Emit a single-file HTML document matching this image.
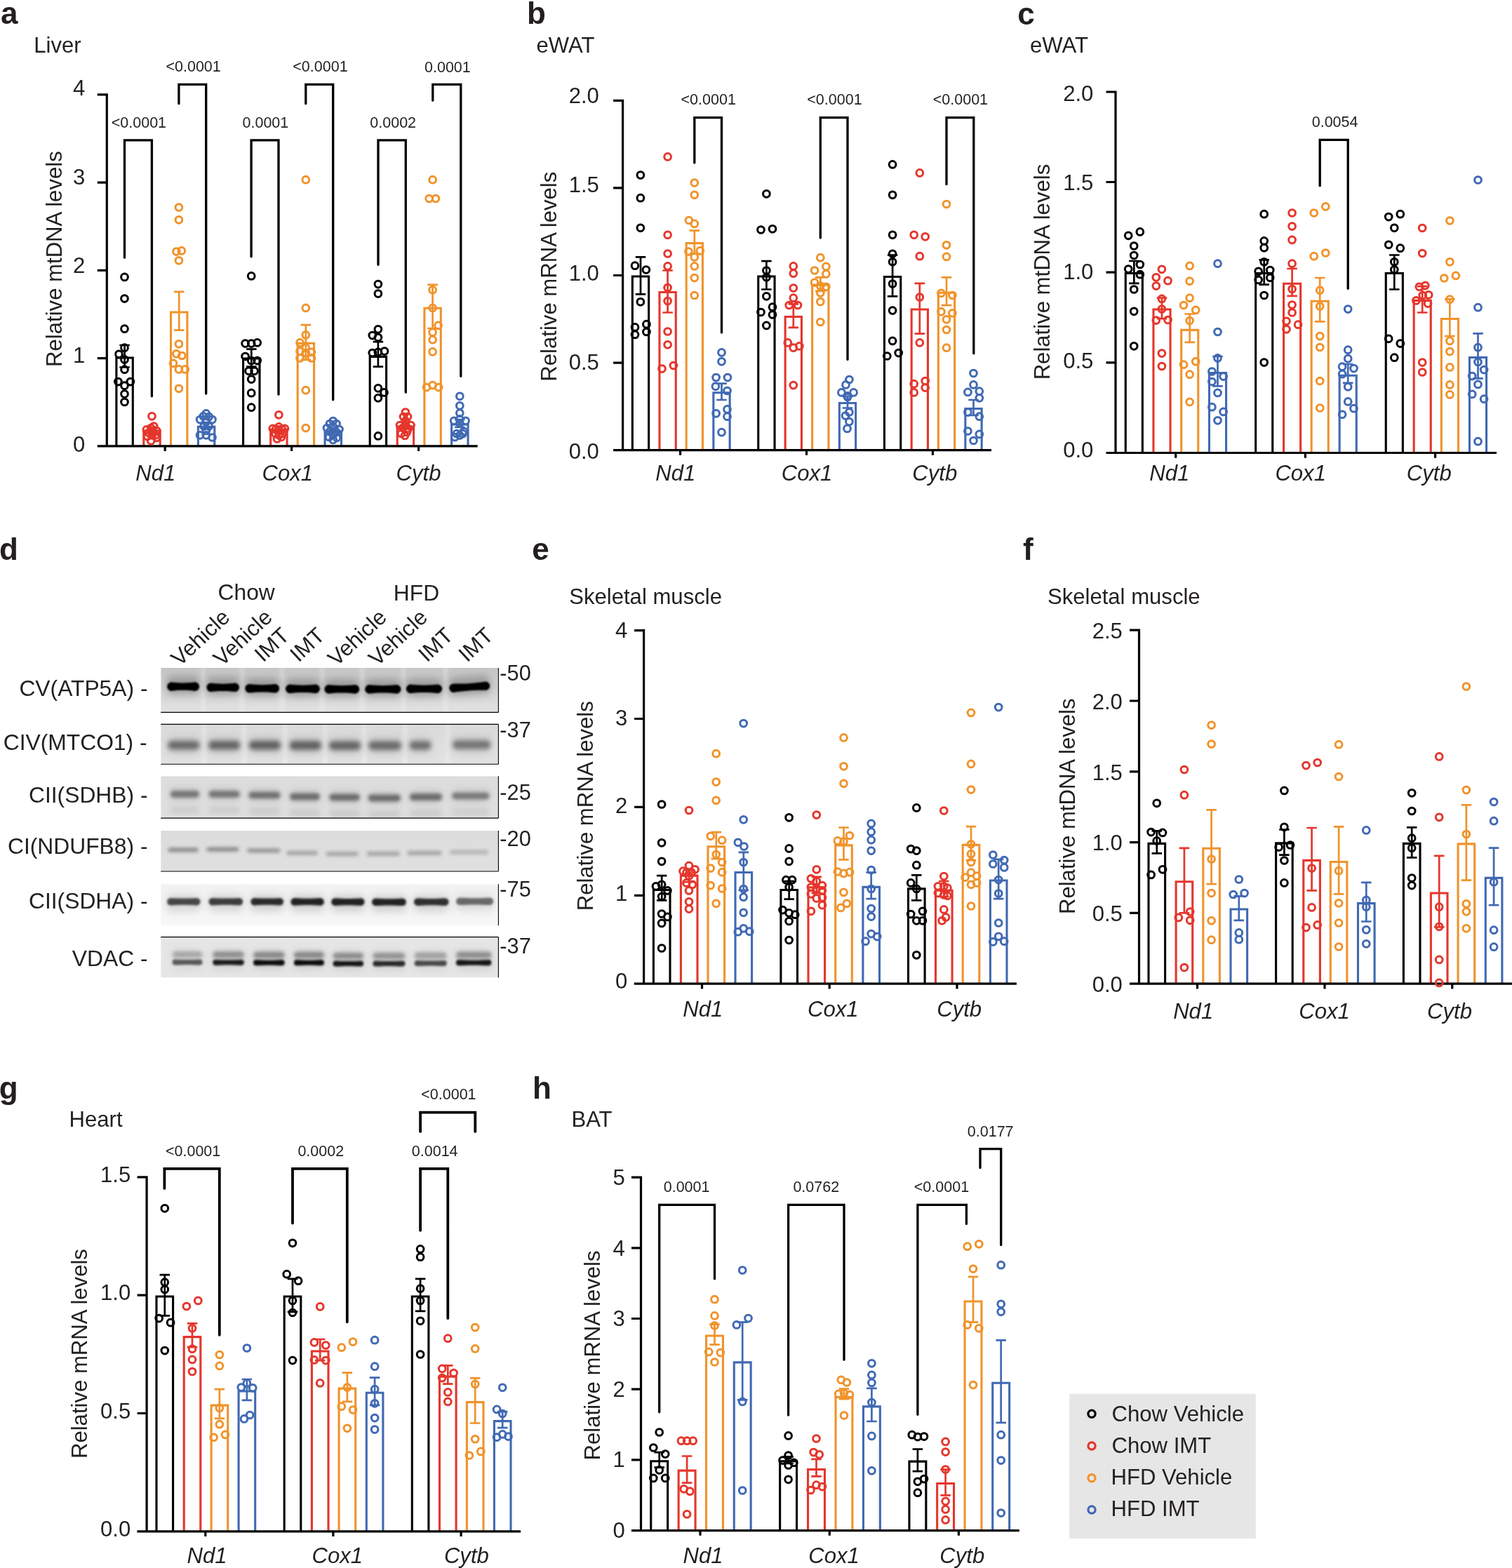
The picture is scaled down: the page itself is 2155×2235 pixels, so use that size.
<!DOCTYPE html>
<html lang="en"><head><meta charset="utf-8"><title>Figure: mitochondrial DNA and mRNA levels</title>
<style>html,body{margin:0;padding:0;background:#fff}body{width:2155px;height:2235px;overflow:hidden}svg{display:block}text{font-family:"Liberation Sans",Arial,Helvetica,sans-serif;fill:#231f20}</style>
</head><body>
<svg xmlns="http://www.w3.org/2000/svg" width="2155" height="2235" viewBox="0 0 2155 2235">
<rect width="2155" height="2235" fill="#fff"/>
<g>
<text x="0.88" y="34" font-size="44" font-weight="bold">a</text>
<text x="48.23" y="75" font-size="31.1">Liver</text>
<text x="87.9" y="522.87" font-size="31.1" transform="rotate(-90 87.9 522.87)">Relative mtDNA levels</text>
<text x="121.3" y="643.8" font-size="31.1" text-anchor="end">0</text>
<text x="121.3" y="517.2" font-size="31.1" text-anchor="end">1</text>
<text x="121.3" y="388.6" font-size="31.1" text-anchor="end">2</text>
<text x="121.3" y="262.5" font-size="31.1" text-anchor="end">3</text>
<text x="121.3" y="135.7" font-size="31.1" text-anchor="end">4</text>
<text x="193.37" y="684.6" font-size="31.1" font-style="italic">Nd1</text>
<text x="373.49" y="684.6" font-size="31.1" font-style="italic">Cox1</text>
<text x="564.49" y="684.6" font-size="31.1" font-style="italic">Cytb</text>
<path d="M165.9 635.9V510.05H189.3V635.9" fill="none" stroke="#000000" stroke-width="3.1"/>
<path d="M204.8 635.9V614.05H228.2V635.9" fill="none" stroke="#e5362c" stroke-width="3.1"/>
<path d="M243.5 635.9V445.05H266.9V635.9" fill="none" stroke="#f0932b" stroke-width="3.1"/>
<path d="M282.4 635.9V608.35H305.8V635.9" fill="none" stroke="#4069b3" stroke-width="3.1"/>
<path d="M346.6 635.9V511.05H370V635.9" fill="none" stroke="#000000" stroke-width="3.1"/>
<path d="M385.7 635.9V612.55H409.1V635.9" fill="none" stroke="#e5362c" stroke-width="3.1"/>
<path d="M424.2 635.9V489.25H447.6V635.9" fill="none" stroke="#f0932b" stroke-width="3.1"/>
<path d="M463.1 635.9V614.85H486.5V635.9" fill="none" stroke="#4069b3" stroke-width="3.1"/>
<path d="M527.2 635.9V508.35H550.6V635.9" fill="none" stroke="#000000" stroke-width="3.1"/>
<path d="M566.2 635.9V608.05H589.6V635.9" fill="none" stroke="#e5362c" stroke-width="3.1"/>
<path d="M604.9 635.9V439.25H628.3V635.9" fill="none" stroke="#f0932b" stroke-width="3.1"/>
<path d="M643.6 635.9V605.05H667V635.9" fill="none" stroke="#4069b3" stroke-width="3.1"/>
<path d="M152.3 133.3V637.5M139 635.9H680.7M138.8 635.9H152.3M138.8 510.65H152.3M138.8 385.4H152.3M138.8 260.15H152.3M138.8 134.9H152.3M235.2 635.9V643.1M415.6 635.9V643.1M596.6 635.9V643.1" fill="none" stroke="#000" stroke-width="3.2"/>
<path d="M177.6 492V523.5M170.35 492H184.85M170.35 523.5H184.85" fill="none" stroke="#000000" stroke-width="2.7"/>
<g fill="none" stroke="#000000" stroke-width="3"><circle cx="177.5" cy="394.9" r="4.85"/><circle cx="177.5" cy="425.6" r="4.85"/><circle cx="177.5" cy="468.7" r="4.85"/><circle cx="177.5" cy="495.7" r="4.85"/><circle cx="169.5" cy="504.8" r="4.85"/><circle cx="177.5" cy="512.4" r="4.85"/><circle cx="177.5" cy="526.7" r="4.85"/><circle cx="168.4" cy="544.1" r="4.85"/><circle cx="185.9" cy="544.1" r="4.85"/><circle cx="177.5" cy="549.7" r="4.85"/><circle cx="177.5" cy="561.6" r="4.85"/><circle cx="177.5" cy="573" r="4.85"/></g>
<path d="M216.5 609V617M209.25 609H223.75M209.25 617H223.75" fill="none" stroke="#e5362c" stroke-width="2.7"/>
<g fill="none" stroke="#e5362c" stroke-width="3"><circle cx="216.5" cy="593.3" r="4.85"/><circle cx="208.9" cy="612.4" r="4.85"/><circle cx="215.2" cy="610" r="4.85"/><circle cx="219.2" cy="607.6" r="4.85"/><circle cx="223.2" cy="614" r="4.85"/><circle cx="212" cy="617" r="4.85"/><circle cx="216.8" cy="620.3" r="4.85"/><circle cx="221.6" cy="620.3" r="4.85"/><circle cx="215.2" cy="628.3" r="4.85"/><circle cx="210" cy="622" r="4.85"/><circle cx="223" cy="624" r="4.85"/><circle cx="217" cy="614" r="4.85"/></g>
<path d="M255.2 415.9V470.6M247.95 415.9H262.45M247.95 470.6H262.45" fill="none" stroke="#f0932b" stroke-width="2.7"/>
<g fill="none" stroke="#f0932b" stroke-width="3"><circle cx="254.9" cy="295.6" r="4.85"/><circle cx="254.9" cy="313.3" r="4.85"/><circle cx="251.4" cy="358.6" r="4.85"/><circle cx="258.8" cy="357.4" r="4.85"/><circle cx="254.9" cy="371.3" r="4.85"/><circle cx="254.9" cy="490.3" r="4.85"/><circle cx="251.4" cy="504.3" r="4.85"/><circle cx="259.3" cy="507" r="4.85"/><circle cx="247" cy="517.8" r="4.85"/><circle cx="254.9" cy="526.4" r="4.85"/><circle cx="263.7" cy="526.4" r="4.85"/><circle cx="254.9" cy="553.8" r="4.85"/></g>
<path d="M294.1 602V611M286.85 602H301.35M286.85 611H301.35" fill="none" stroke="#4069b3" stroke-width="2.7"/>
<g fill="none" stroke="#4069b3" stroke-width="3"><circle cx="293.8" cy="589.4" r="4.85"/><circle cx="289.8" cy="593.3" r="4.85"/><circle cx="297.8" cy="594.1" r="4.85"/><circle cx="285.1" cy="598.1" r="4.85"/><circle cx="302.5" cy="598.1" r="4.85"/><circle cx="293.8" cy="601.3" r="4.85"/><circle cx="290.6" cy="607.6" r="4.85"/><circle cx="297.8" cy="607.6" r="4.85"/><circle cx="293.8" cy="614" r="4.85"/><circle cx="285.1" cy="620.3" r="4.85"/><circle cx="302.5" cy="623.5" r="4.85"/><circle cx="293.8" cy="620.3" r="4.85"/></g>
<path d="M358.3 497.7V522.7M351.05 497.7H365.55M351.05 522.7H365.55" fill="none" stroke="#000000" stroke-width="2.7"/>
<g fill="none" stroke="#000000" stroke-width="3"><circle cx="358.2" cy="393.4" r="4.85"/><circle cx="349.6" cy="489.6" r="4.85"/><circle cx="358.2" cy="489.6" r="4.85"/><circle cx="366.7" cy="488.4" r="4.85"/><circle cx="349.6" cy="508" r="4.85"/><circle cx="358.2" cy="514.1" r="4.85"/><circle cx="366.7" cy="514.1" r="4.85"/><circle cx="354.5" cy="528.8" r="4.85"/><circle cx="362.6" cy="528.8" r="4.85"/><circle cx="358.2" cy="540.6" r="4.85"/><circle cx="358.2" cy="560.2" r="4.85"/><circle cx="358.2" cy="580.7" r="4.85"/></g>
<path d="M397.4 607.5V615M390.15 607.5H404.65M390.15 615H404.65" fill="none" stroke="#e5362c" stroke-width="2.7"/>
<g fill="none" stroke="#e5362c" stroke-width="3"><circle cx="397.4" cy="591.3" r="4.85"/><circle cx="388.8" cy="610.9" r="4.85"/><circle cx="397.4" cy="613.3" r="4.85"/><circle cx="405.9" cy="610.9" r="4.85"/><circle cx="392.5" cy="618.2" r="4.85"/><circle cx="402.3" cy="618.2" r="4.85"/><circle cx="397.4" cy="608.4" r="4.85"/><circle cx="395" cy="625.6" r="4.85"/><circle cx="401" cy="623.1" r="4.85"/><circle cx="393" cy="612" r="4.85"/><circle cx="402" cy="612" r="4.85"/><circle cx="397.4" cy="620" r="4.85"/></g>
<path d="M435.9 463.2V512.9M428.65 463.2H443.15M428.65 512.9H443.15" fill="none" stroke="#f0932b" stroke-width="2.7"/>
<g fill="none" stroke="#f0932b" stroke-width="3"><circle cx="435.8" cy="256.2" r="4.85"/><circle cx="435.8" cy="438.9" r="4.85"/><circle cx="435.8" cy="477.4" r="4.85"/><circle cx="427.5" cy="488.4" r="4.85"/><circle cx="435.8" cy="495.7" r="4.85"/><circle cx="443.9" cy="501.9" r="4.85"/><circle cx="427.5" cy="500.6" r="4.85"/><circle cx="435.8" cy="503.1" r="4.85"/><circle cx="427.5" cy="510.4" r="4.85"/><circle cx="443.9" cy="510.4" r="4.85"/><circle cx="435.8" cy="556.2" r="4.85"/><circle cx="435.8" cy="610.1" r="4.85"/></g>
<path d="M474.8 610.5V616.5M467.55 610.5H482.05M467.55 616.5H482.05" fill="none" stroke="#4069b3" stroke-width="2.7"/>
<g fill="none" stroke="#4069b3" stroke-width="3"><circle cx="474.7" cy="600" r="4.85"/><circle cx="470" cy="604" r="4.85"/><circle cx="479.5" cy="604" r="4.85"/><circle cx="466" cy="610" r="4.85"/><circle cx="483.5" cy="612" r="4.85"/><circle cx="474.7" cy="608" r="4.85"/><circle cx="470" cy="615" r="4.85"/><circle cx="479.5" cy="616" r="4.85"/><circle cx="474.7" cy="620" r="4.85"/><circle cx="469" cy="623" r="4.85"/><circle cx="480" cy="624" r="4.85"/><circle cx="474.7" cy="627" r="4.85"/></g>
<path d="M538.9 487.2V522.7M531.65 487.2H546.15M531.65 522.7H546.15" fill="none" stroke="#000000" stroke-width="2.7"/>
<g fill="none" stroke="#000000" stroke-width="3"><circle cx="538.9" cy="405.1" r="4.85"/><circle cx="538.9" cy="418.6" r="4.85"/><circle cx="538.9" cy="469.3" r="4.85"/><circle cx="530.8" cy="478.1" r="4.85"/><circle cx="538.9" cy="481" r="4.85"/><circle cx="530.8" cy="503.1" r="4.85"/><circle cx="538.9" cy="501.9" r="4.85"/><circle cx="548" cy="500.6" r="4.85"/><circle cx="538.9" cy="553.3" r="4.85"/><circle cx="547.5" cy="559.4" r="4.85"/><circle cx="538.9" cy="567.3" r="4.85"/><circle cx="538.9" cy="621.4" r="4.85"/></g>
<path d="M577.9 602V611M570.65 602H585.15M570.65 611H585.15" fill="none" stroke="#e5362c" stroke-width="2.7"/>
<g fill="none" stroke="#e5362c" stroke-width="3"><circle cx="577.9" cy="587.6" r="4.85"/><circle cx="575" cy="594" r="4.85"/><circle cx="581" cy="594" r="4.85"/><circle cx="577.9" cy="600" r="4.85"/><circle cx="570" cy="606" r="4.85"/><circle cx="585.5" cy="606" r="4.85"/><circle cx="574" cy="610" r="4.85"/><circle cx="582" cy="611" r="4.85"/><circle cx="577.9" cy="606" r="4.85"/><circle cx="572" cy="618" r="4.85"/><circle cx="580" cy="616" r="4.85"/><circle cx="577" cy="621" r="4.85"/></g>
<path d="M616.6 405.9V468.1M609.35 405.9H623.85M609.35 468.1H623.85" fill="none" stroke="#f0932b" stroke-width="2.7"/>
<g fill="none" stroke="#f0932b" stroke-width="3"><circle cx="616.6" cy="256.2" r="4.85"/><circle cx="611.7" cy="283.1" r="4.85"/><circle cx="621" cy="283.1" r="4.85"/><circle cx="616.6" cy="413.2" r="4.85"/><circle cx="616.6" cy="438.9" r="4.85"/><circle cx="624.6" cy="463.9" r="4.85"/><circle cx="616.6" cy="473.7" r="4.85"/><circle cx="616.6" cy="484.2" r="4.85"/><circle cx="616.6" cy="501.4" r="4.85"/><circle cx="608" cy="552.1" r="4.85"/><circle cx="616.6" cy="549.1" r="4.85"/><circle cx="625.1" cy="552.1" r="4.85"/></g>
<path d="M655.3 598V609M648.05 598H662.55M648.05 609H662.55" fill="none" stroke="#4069b3" stroke-width="2.7"/>
<g fill="none" stroke="#4069b3" stroke-width="3"><circle cx="655.3" cy="564.8" r="4.85"/><circle cx="655.3" cy="578.3" r="4.85"/><circle cx="655.3" cy="588.8" r="4.85"/><circle cx="647.2" cy="599.8" r="4.85"/><circle cx="655.3" cy="597.4" r="4.85"/><circle cx="663.6" cy="599.8" r="4.85"/><circle cx="655.3" cy="603.5" r="4.85"/><circle cx="650.9" cy="618.2" r="4.85"/><circle cx="659.5" cy="618.2" r="4.85"/><circle cx="648.4" cy="623.1" r="4.85"/><circle cx="655.3" cy="620.6" r="4.85"/><circle cx="661" cy="615" r="4.85"/></g>
<path d="M177.5 367.15V199.8H216.4V564.85" fill="none" stroke="#000" stroke-width="3.3" stroke-linecap="round"/>
<text x="158.71" y="182" font-size="22.7" textLength="78.39" lengthAdjust="spacingAndGlyphs" fill="#000">&lt;0.0001</text>
<path d="M254.9 147.65V120.4H293.7V561.05" fill="none" stroke="#000" stroke-width="3.3" stroke-linecap="round"/>
<text x="236.41" y="102" font-size="22.7" textLength="78.39" lengthAdjust="spacingAndGlyphs" fill="#000">&lt;0.0001</text>
<path d="M358.1 365.85V199.8H397V562.15" fill="none" stroke="#000" stroke-width="3.3" stroke-linecap="round"/>
<text x="345.49" y="182" font-size="22.7" textLength="65.82" lengthAdjust="spacingAndGlyphs" fill="#000">0.0001</text>
<path d="M435.8 147.65V120.4H474.7V569.75" fill="none" stroke="#000" stroke-width="3.3" stroke-linecap="round"/>
<text x="417.31" y="102" font-size="22.7" textLength="78.39" lengthAdjust="spacingAndGlyphs" fill="#000">&lt;0.0001</text>
<path d="M539 377.25V199.8H578.3V559.15" fill="none" stroke="#000" stroke-width="3.3" stroke-linecap="round"/>
<text x="527.29" y="182" font-size="22.7" textLength="65.82" lengthAdjust="spacingAndGlyphs" fill="#000">0.0002</text>
<path d="M616.8 143.15V120.4H656.8V536.25" fill="none" stroke="#000" stroke-width="3.3" stroke-linecap="round"/>
<text x="604.99" y="103" font-size="22.7" textLength="65.82" lengthAdjust="spacingAndGlyphs" fill="#000">0.0001</text>
</g>
<g>
<text x="750.94" y="34.3" font-size="44" font-weight="bold">b</text>
<text x="764.48" y="75.1" font-size="31.1">eWAT</text>
<text x="792.6" y="543.65" font-size="31.1" transform="rotate(-90 792.6 543.65)">Relative mRNA levels</text>
<text x="853.9" y="654.1" font-size="31.1" text-anchor="end">0.0</text>
<text x="853.9" y="527" font-size="31.1" text-anchor="end">0.5</text>
<text x="853.9" y="400.2" font-size="31.1" text-anchor="end">1.0</text>
<text x="853.9" y="273.5" font-size="31.1" text-anchor="end">1.5</text>
<text x="853.9" y="146.8" font-size="31.1" text-anchor="end">2.0</text>
<text x="934.27" y="685" font-size="31.1" font-style="italic">Nd1</text>
<text x="1113.79" y="685" font-size="31.1" font-style="italic">Cox1</text>
<text x="1300.29" y="685" font-size="31.1" font-style="italic">Cytb</text>
<path d="M901.35 641.6V393.95H924.65V641.6" fill="none" stroke="#000000" stroke-width="3.1"/>
<path d="M939.95 641.6V416.45H963.25V641.6" fill="none" stroke="#e5362c" stroke-width="3.1"/>
<path d="M978.15 641.6V346.65H1001.45V641.6" fill="none" stroke="#f0932b" stroke-width="3.1"/>
<path d="M1016.85 641.6V559.75H1040.15V641.6" fill="none" stroke="#4069b3" stroke-width="3.1"/>
<path d="M1080.75 641.6V393.95H1104.05V641.6" fill="none" stroke="#000000" stroke-width="3.1"/>
<path d="M1119.15 641.6V451.55H1142.45V641.6" fill="none" stroke="#e5362c" stroke-width="3.1"/>
<path d="M1157.65 641.6V406.15H1180.95V641.6" fill="none" stroke="#f0932b" stroke-width="3.1"/>
<path d="M1196.35 641.6V574.45H1219.65V641.6" fill="none" stroke="#4069b3" stroke-width="3.1"/>
<path d="M1260.45 641.6V394.45H1283.75V641.6" fill="none" stroke="#000000" stroke-width="3.1"/>
<path d="M1299.15 641.6V440.95H1322.45V641.6" fill="none" stroke="#e5362c" stroke-width="3.1"/>
<path d="M1337.35 641.6V417.25H1360.65V641.6" fill="none" stroke="#f0932b" stroke-width="3.1"/>
<path d="M1375.85 641.6V582.55H1399.15V641.6" fill="none" stroke="#4069b3" stroke-width="3.1"/>
<path d="M887.6 141.8V643.2M874.3 641.6H1413M874.1 641.6H887.6M874.1 517.1H887.6M874.1 392.5H887.6M874.1 267.9H887.6M874.1 143.4H887.6M969.6 641.6V648.8M1149.5 641.6V648.8M1329.4 641.6V648.8" fill="none" stroke="#000" stroke-width="3.2"/>
<path d="M913 366.4V419.3M905.75 366.4H920.25M905.75 419.3H920.25" fill="none" stroke="#000000" stroke-width="2.7"/>
<g fill="none" stroke="#000000" stroke-width="3"><circle cx="912.9" cy="249.6" r="4.85"/><circle cx="912.9" cy="282.2" r="4.85"/><circle cx="912.9" cy="324.8" r="4.85"/><circle cx="905" cy="378.7" r="4.85"/><circle cx="920.9" cy="384.5" r="4.85"/><circle cx="912.9" cy="430.3" r="4.85"/><circle cx="905" cy="466.4" r="4.85"/><circle cx="921.4" cy="462.2" r="4.85"/><circle cx="921.4" cy="473" r="4.85"/><circle cx="905" cy="476.9" r="4.85"/></g>
<path d="M951.6 385.5V445.5M944.35 385.5H958.85M944.35 445.5H958.85" fill="none" stroke="#e5362c" stroke-width="2.7"/>
<g fill="none" stroke="#e5362c" stroke-width="3"><circle cx="951.6" cy="223.4" r="4.85"/><circle cx="951.6" cy="334.8" r="4.85"/><circle cx="951.6" cy="361.5" r="4.85"/><circle cx="951.6" cy="379.4" r="4.85"/><circle cx="951.6" cy="410" r="4.85"/><circle cx="951.6" cy="429.1" r="4.85"/><circle cx="951.6" cy="472.5" r="4.85"/><circle cx="951.6" cy="491.3" r="4.85"/><circle cx="959.9" cy="521" r="4.85"/><circle cx="943.5" cy="525.6" r="4.85"/></g>
<path d="M989.8 328.7V361.5M982.55 328.7H997.05M982.55 361.5H997.05" fill="none" stroke="#f0932b" stroke-width="2.7"/>
<g fill="none" stroke="#f0932b" stroke-width="3"><circle cx="989.8" cy="260.6" r="4.85"/><circle cx="989.8" cy="277.8" r="4.85"/><circle cx="981.9" cy="314" r="4.85"/><circle cx="989.8" cy="318.9" r="4.85"/><circle cx="981.4" cy="358.6" r="4.85"/><circle cx="997.8" cy="357.4" r="4.85"/><circle cx="989.8" cy="366.4" r="4.85"/><circle cx="989.8" cy="379.4" r="4.85"/><circle cx="989.8" cy="396.1" r="4.85"/><circle cx="989.8" cy="421" r="4.85"/></g>
<path d="M1028.5 546.7V570M1021.25 546.7H1035.75M1021.25 570H1035.75" fill="none" stroke="#4069b3" stroke-width="2.7"/>
<g fill="none" stroke="#4069b3" stroke-width="3"><circle cx="1028.5" cy="502.4" r="4.85"/><circle cx="1028.5" cy="515.3" r="4.85"/><circle cx="1020.6" cy="538.1" r="4.85"/><circle cx="1037" cy="538.1" r="4.85"/><circle cx="1019.9" cy="550.8" r="4.85"/><circle cx="1036.5" cy="557" r="4.85"/><circle cx="1036.5" cy="583.4" r="4.85"/><circle cx="1020.6" cy="589.3" r="4.85"/><circle cx="1036.5" cy="593.7" r="4.85"/><circle cx="1028.5" cy="616.2" r="4.85"/></g>
<path d="M1092.4 372.1V412.5M1085.15 372.1H1099.65M1085.15 412.5H1099.65" fill="none" stroke="#000000" stroke-width="2.7"/>
<g fill="none" stroke="#000000" stroke-width="3"><circle cx="1092.4" cy="276.3" r="4.85"/><circle cx="1084.5" cy="327.5" r="4.85"/><circle cx="1101" cy="326.3" r="4.85"/><circle cx="1092.4" cy="385.5" r="4.85"/><circle cx="1092.4" cy="395.3" r="4.85"/><circle cx="1092.4" cy="422.3" r="4.85"/><circle cx="1101" cy="437.7" r="4.85"/><circle cx="1084.5" cy="445" r="4.85"/><circle cx="1101" cy="448.5" r="4.85"/><circle cx="1092.4" cy="463.9" r="4.85"/></g>
<path d="M1130.8 433.3V466.8M1123.55 433.3H1138.05M1123.55 466.8H1138.05" fill="none" stroke="#e5362c" stroke-width="2.7"/>
<g fill="none" stroke="#e5362c" stroke-width="3"><circle cx="1130.8" cy="379.4" r="4.85"/><circle cx="1130.8" cy="389.7" r="4.85"/><circle cx="1130.8" cy="410.5" r="4.85"/><circle cx="1130.8" cy="424.7" r="4.85"/><circle cx="1124.7" cy="435" r="4.85"/><circle cx="1137" cy="435" r="4.85"/><circle cx="1122.8" cy="488.4" r="4.85"/><circle cx="1130.8" cy="495.7" r="4.85"/><circle cx="1139.4" cy="493.3" r="4.85"/><circle cx="1130.8" cy="549.1" r="4.85"/></g>
<path d="M1169.3 395.3V414.9M1162.05 395.3H1176.55M1162.05 414.9H1176.55" fill="none" stroke="#f0932b" stroke-width="2.7"/>
<g fill="none" stroke="#f0932b" stroke-width="3"><circle cx="1169.3" cy="367.2" r="4.85"/><circle cx="1177.4" cy="379.9" r="4.85"/><circle cx="1161" cy="385.5" r="4.85"/><circle cx="1177.4" cy="390.4" r="4.85"/><circle cx="1161" cy="402.7" r="4.85"/><circle cx="1169.3" cy="407.6" r="4.85"/><circle cx="1177.4" cy="408.8" r="4.85"/><circle cx="1169.3" cy="417.4" r="4.85"/><circle cx="1169.3" cy="430.1" r="4.85"/><circle cx="1169.3" cy="459" r="4.85"/></g>
<path d="M1208 564.8V581.5M1200.75 564.8H1215.25M1200.75 581.5H1215.25" fill="none" stroke="#4069b3" stroke-width="2.7"/>
<g fill="none" stroke="#4069b3" stroke-width="3"><circle cx="1210.4" cy="541" r="4.85"/><circle cx="1205.5" cy="548.4" r="4.85"/><circle cx="1199.4" cy="559.4" r="4.85"/><circle cx="1216.6" cy="559.4" r="4.85"/><circle cx="1208" cy="564.3" r="4.85"/><circle cx="1208" cy="566" r="4.85"/><circle cx="1210.4" cy="587.6" r="4.85"/><circle cx="1205" cy="592.5" r="4.85"/><circle cx="1210.4" cy="601" r="4.85"/><circle cx="1207.5" cy="610.9" r="4.85"/></g>
<path d="M1272.1 363.5V422.3M1264.85 363.5H1279.35M1264.85 422.3H1279.35" fill="none" stroke="#000000" stroke-width="2.7"/>
<g fill="none" stroke="#000000" stroke-width="3"><circle cx="1272.1" cy="234.4" r="4.85"/><circle cx="1272.1" cy="277.8" r="4.85"/><circle cx="1272.1" cy="334.8" r="4.85"/><circle cx="1272.1" cy="361.8" r="4.85"/><circle cx="1272.1" cy="373.3" r="4.85"/><circle cx="1272.1" cy="404.6" r="4.85"/><circle cx="1272.1" cy="442.6" r="4.85"/><circle cx="1272.1" cy="485.9" r="4.85"/><circle cx="1280.7" cy="503.1" r="4.85"/><circle cx="1264.3" cy="507.5" r="4.85"/></g>
<path d="M1310.8 403.9V475.7M1303.55 403.9H1318.05M1303.55 475.7H1318.05" fill="none" stroke="#e5362c" stroke-width="2.7"/>
<g fill="none" stroke="#e5362c" stroke-width="3"><circle cx="1310.8" cy="246.4" r="4.85"/><circle cx="1302.7" cy="334.8" r="4.85"/><circle cx="1318.7" cy="337.3" r="4.85"/><circle cx="1310.8" cy="365.2" r="4.85"/><circle cx="1310.8" cy="423.5" r="4.85"/><circle cx="1310.8" cy="488.4" r="4.85"/><circle cx="1302.7" cy="547.2" r="4.85"/><circle cx="1318.7" cy="543" r="4.85"/><circle cx="1318.7" cy="552.6" r="4.85"/><circle cx="1302.7" cy="559.4" r="4.85"/></g>
<path d="M1349 395.3V435.2M1341.75 395.3H1356.25M1341.75 435.2H1356.25" fill="none" stroke="#f0932b" stroke-width="2.7"/>
<g fill="none" stroke="#f0932b" stroke-width="3"><circle cx="1349" cy="291" r="4.85"/><circle cx="1349" cy="349.3" r="4.85"/><circle cx="1349" cy="365.9" r="4.85"/><circle cx="1341.4" cy="417.9" r="4.85"/><circle cx="1357.4" cy="421" r="4.85"/><circle cx="1341.4" cy="444.3" r="4.85"/><circle cx="1357.4" cy="446.3" r="4.85"/><circle cx="1349" cy="455.3" r="4.85"/><circle cx="1349" cy="470" r="4.85"/><circle cx="1349" cy="495.7" r="4.85"/></g>
<path d="M1387.5 570V591.8M1380.25 570H1394.75M1380.25 591.8H1394.75" fill="none" stroke="#4069b3" stroke-width="2.7"/>
<g fill="none" stroke="#4069b3" stroke-width="3"><circle cx="1387.5" cy="532" r="4.85"/><circle cx="1387.5" cy="548.4" r="4.85"/><circle cx="1379.4" cy="558.9" r="4.85"/><circle cx="1395.8" cy="557.7" r="4.85"/><circle cx="1395.8" cy="567.3" r="4.85"/><circle cx="1379.4" cy="587.6" r="4.85"/><circle cx="1395.8" cy="593.7" r="4.85"/><circle cx="1379.4" cy="614.5" r="4.85"/><circle cx="1395.8" cy="618.9" r="4.85"/><circle cx="1387.5" cy="628" r="4.85"/></g>
<path d="M989.8 232.05V167.6H1028.5V474.05" fill="none" stroke="#000" stroke-width="3.3" stroke-linecap="round"/>
<text x="970.51" y="148.7" font-size="22.7" textLength="78.39" lengthAdjust="spacingAndGlyphs" fill="#000">&lt;0.0001</text>
<path d="M1169.3 339.05V167.6H1208V512.45" fill="none" stroke="#000" stroke-width="3.3" stroke-linecap="round"/>
<text x="1150.31" y="148.7" font-size="22.7" textLength="78.39" lengthAdjust="spacingAndGlyphs" fill="#000">&lt;0.0001</text>
<path d="M1349 262.65V167.6H1387.8V503.85" fill="none" stroke="#000" stroke-width="3.3" stroke-linecap="round"/>
<text x="1329.71" y="148.7" font-size="22.7" textLength="78.39" lengthAdjust="spacingAndGlyphs" fill="#000">&lt;0.0001</text>
</g>
<g>
<text x="1450.24" y="34.6" font-size="44" font-weight="bold">c</text>
<text x="1467.98" y="75.1" font-size="31.1">eWAT</text>
<text x="1496" y="541.37" font-size="31.1" transform="rotate(-90 1496 541.37)">Relative mtDNA levels</text>
<text x="1558.4" y="652.1" font-size="31.1" text-anchor="end">0.0</text>
<text x="1558.4" y="525.1" font-size="31.1" text-anchor="end">0.5</text>
<text x="1558.4" y="397.8" font-size="31.1" text-anchor="end">1.0</text>
<text x="1558.4" y="271.4" font-size="31.1" text-anchor="end">1.5</text>
<text x="1558.4" y="144.4" font-size="31.1" text-anchor="end">2.0</text>
<text x="1638.37" y="684.5" font-size="31.1" font-style="italic">Nd1</text>
<text x="1817.39" y="684.5" font-size="31.1" font-style="italic">Cox1</text>
<text x="2004.79" y="684.5" font-size="31.1" font-style="italic">Cytb</text>
<path d="M1604.25 645.5V389.55H1628.35V645.5" fill="none" stroke="#000000" stroke-width="3.1"/>
<path d="M1643.95 645.5V440.95H1668.05V645.5" fill="none" stroke="#e5362c" stroke-width="3.1"/>
<path d="M1683.65 645.5V470.35H1707.75V645.5" fill="none" stroke="#f0932b" stroke-width="3.1"/>
<path d="M1723.45 645.5V531.55H1747.55V645.5" fill="none" stroke="#4069b3" stroke-width="3.1"/>
<path d="M1789.65 645.5V389.55H1813.75V645.5" fill="none" stroke="#000000" stroke-width="3.1"/>
<path d="M1829.55 645.5V404.25H1853.65V645.5" fill="none" stroke="#e5362c" stroke-width="3.1"/>
<path d="M1869.15 645.5V429.25H1893.25V645.5" fill="none" stroke="#f0932b" stroke-width="3.1"/>
<path d="M1909.15 645.5V535.25H1933.25V645.5" fill="none" stroke="#4069b3" stroke-width="3.1"/>
<path d="M1975.25 645.5V389.55H1999.35V645.5" fill="none" stroke="#000000" stroke-width="3.1"/>
<path d="M2015.15 645.5V428.35H2039.25V645.5" fill="none" stroke="#e5362c" stroke-width="3.1"/>
<path d="M2054.35 645.5V454.45H2078.45V645.5" fill="none" stroke="#f0932b" stroke-width="3.1"/>
<path d="M2094.45 645.5V509.55H2118.55V645.5" fill="none" stroke="#4069b3" stroke-width="3.1"/>
<path d="M1590 129.4V647.1M1576.7 645.5H2133M1576.5 645.5H1590M1576.5 516.8H1590M1576.5 388.1H1590M1576.5 259.5H1590M1576.5 131H1590M1675.7 645.5V652.7M1860.4 645.5V652.7M2045.6 645.5V652.7" fill="none" stroke="#000" stroke-width="3.2"/>
<path d="M1616.3 372V403.9M1609.05 372H1623.55M1609.05 403.9H1623.55" fill="none" stroke="#000000" stroke-width="2.7"/>
<g fill="none" stroke="#000000" stroke-width="3"><circle cx="1624.8" cy="330.4" r="4.85"/><circle cx="1608.2" cy="335.8" r="4.85"/><circle cx="1616.2" cy="350.5" r="4.85"/><circle cx="1616.2" cy="364" r="4.85"/><circle cx="1624.8" cy="377" r="4.85"/><circle cx="1608.2" cy="383.6" r="4.85"/><circle cx="1624.8" cy="391.2" r="4.85"/><circle cx="1616.2" cy="412.5" r="4.85"/><circle cx="1616.2" cy="443.8" r="4.85"/><circle cx="1616.2" cy="493.3" r="4.85"/></g>
<path d="M1656 424.7V454.1M1648.75 424.7H1663.25M1648.75 454.1H1663.25" fill="none" stroke="#e5362c" stroke-width="2.7"/>
<g fill="none" stroke="#e5362c" stroke-width="3"><circle cx="1655.9" cy="383.8" r="4.85"/><circle cx="1647.8" cy="395.3" r="4.85"/><circle cx="1664.5" cy="400.2" r="4.85"/><circle cx="1647.8" cy="407.6" r="4.85"/><circle cx="1655.9" cy="425.9" r="4.85"/><circle cx="1655.9" cy="440.6" r="4.85"/><circle cx="1647.8" cy="456.6" r="4.85"/><circle cx="1664.5" cy="456" r="4.85"/><circle cx="1655.9" cy="503.6" r="4.85"/><circle cx="1655.9" cy="522" r="4.85"/></g>
<path d="M1695.7 447.5V487.9M1688.45 447.5H1702.95M1688.45 487.9H1702.95" fill="none" stroke="#f0932b" stroke-width="2.7"/>
<g fill="none" stroke="#f0932b" stroke-width="3"><circle cx="1695.6" cy="378.9" r="4.85"/><circle cx="1695.6" cy="400.7" r="4.85"/><circle cx="1695.6" cy="424.7" r="4.85"/><circle cx="1687" cy="435" r="4.85"/><circle cx="1704.2" cy="441.9" r="4.85"/><circle cx="1695.6" cy="457" r="4.85"/><circle cx="1704.2" cy="515.3" r="4.85"/><circle cx="1687" cy="519.7" r="4.85"/><circle cx="1695.6" cy="533.7" r="4.85"/><circle cx="1695.6" cy="572.9" r="4.85"/></g>
<path d="M1735.5 508V550.4M1728.25 508H1742.75M1728.25 550.4H1742.75" fill="none" stroke="#4069b3" stroke-width="2.7"/>
<g fill="none" stroke="#4069b3" stroke-width="3"><circle cx="1735.5" cy="375.7" r="4.85"/><circle cx="1735.5" cy="473" r="4.85"/><circle cx="1735.5" cy="510.4" r="4.85"/><circle cx="1727.4" cy="529.5" r="4.85"/><circle cx="1743.6" cy="536.6" r="4.85"/><circle cx="1727.4" cy="544" r="4.85"/><circle cx="1735.5" cy="559.9" r="4.85"/><circle cx="1727.4" cy="580.2" r="4.85"/><circle cx="1743.6" cy="586.9" r="4.85"/><circle cx="1735.5" cy="599.3" r="4.85"/></g>
<path d="M1801.7 370.3V405.6M1794.45 370.3H1808.95M1794.45 405.6H1808.95" fill="none" stroke="#000000" stroke-width="2.7"/>
<g fill="none" stroke="#000000" stroke-width="3"><circle cx="1801.7" cy="305.2" r="4.85"/><circle cx="1801.7" cy="343.4" r="4.85"/><circle cx="1801.7" cy="353.2" r="4.85"/><circle cx="1801.7" cy="373.3" r="4.85"/><circle cx="1793.6" cy="386.8" r="4.85"/><circle cx="1810.2" cy="385" r="4.85"/><circle cx="1793.6" cy="399" r="4.85"/><circle cx="1810.2" cy="395.8" r="4.85"/><circle cx="1801.7" cy="421" r="4.85"/><circle cx="1801.7" cy="516.6" r="4.85"/></g>
<path d="M1841.6 383V421.8M1834.35 383H1848.85M1834.35 421.8H1848.85" fill="none" stroke="#e5362c" stroke-width="2.7"/>
<g fill="none" stroke="#e5362c" stroke-width="3"><circle cx="1841.6" cy="303.5" r="4.85"/><circle cx="1841.6" cy="322.6" r="4.85"/><circle cx="1841.6" cy="341.9" r="4.85"/><circle cx="1841.6" cy="375.7" r="4.85"/><circle cx="1841.6" cy="412" r="4.85"/><circle cx="1841.6" cy="434.5" r="4.85"/><circle cx="1841.6" cy="445.5" r="4.85"/><circle cx="1833.5" cy="457.8" r="4.85"/><circle cx="1850.1" cy="462.7" r="4.85"/><circle cx="1833.5" cy="469.3" r="4.85"/></g>
<path d="M1881.2 396V458.3M1873.95 396H1888.45M1873.95 458.3H1888.45" fill="none" stroke="#f0932b" stroke-width="2.7"/>
<g fill="none" stroke="#f0932b" stroke-width="3"><circle cx="1889.3" cy="294.4" r="4.85"/><circle cx="1872.7" cy="303.5" r="4.85"/><circle cx="1889.3" cy="360.5" r="4.85"/><circle cx="1872.7" cy="365.2" r="4.85"/><circle cx="1881.2" cy="413.7" r="4.85"/><circle cx="1881.2" cy="436.5" r="4.85"/><circle cx="1881.2" cy="479.1" r="4.85"/><circle cx="1881.2" cy="495" r="4.85"/><circle cx="1881.2" cy="543" r="4.85"/><circle cx="1881.2" cy="581.5" r="4.85"/></g>
<path d="M1921.2 519V545.9M1913.95 519H1928.45M1913.95 545.9H1928.45" fill="none" stroke="#4069b3" stroke-width="2.7"/>
<g fill="none" stroke="#4069b3" stroke-width="3"><circle cx="1921.2" cy="440.6" r="4.85"/><circle cx="1921.2" cy="498.7" r="4.85"/><circle cx="1921.2" cy="511.2" r="4.85"/><circle cx="1913.1" cy="522.7" r="4.85"/><circle cx="1929.5" cy="525.1" r="4.85"/><circle cx="1913.1" cy="533.2" r="4.85"/><circle cx="1921.2" cy="551.3" r="4.85"/><circle cx="1921.2" cy="572.4" r="4.85"/><circle cx="1929.5" cy="582.2" r="4.85"/><circle cx="1913.1" cy="590.8" r="4.85"/></g>
<path d="M1987.3 363.5V412.5M1980.05 363.5H1994.55M1980.05 412.5H1994.55" fill="none" stroke="#000000" stroke-width="2.7"/>
<g fill="none" stroke="#000000" stroke-width="3"><circle cx="1995.8" cy="305.2" r="4.85"/><circle cx="1979.2" cy="309.1" r="4.85"/><circle cx="1987.3" cy="324.8" r="4.85"/><circle cx="1979.2" cy="348.8" r="4.85"/><circle cx="1995.8" cy="353.7" r="4.85"/><circle cx="1987.3" cy="373.3" r="4.85"/><circle cx="1987.3" cy="384.3" r="4.85"/><circle cx="1979.2" cy="482.8" r="4.85"/><circle cx="1995.8" cy="489.6" r="4.85"/><circle cx="1987.3" cy="509.7" r="4.85"/></g>
<path d="M2027.2 408.1V445.5M2019.95 408.1H2034.45M2019.95 445.5H2034.45" fill="none" stroke="#e5362c" stroke-width="2.7"/>
<g fill="none" stroke="#e5362c" stroke-width="3"><circle cx="2027.2" cy="325" r="4.85"/><circle cx="2027.2" cy="361" r="4.85"/><circle cx="2022.8" cy="408.8" r="4.85"/><circle cx="2031.3" cy="407.1" r="4.85"/><circle cx="2027.7" cy="421" r="4.85"/><circle cx="2036.2" cy="420.3" r="4.85"/><circle cx="2018.4" cy="428.4" r="4.85"/><circle cx="2035" cy="432.6" r="4.85"/><circle cx="2027.2" cy="516.6" r="4.85"/><circle cx="2027.2" cy="530.5" r="4.85"/></g>
<path d="M2066.4 426.4V479.1M2059.15 426.4H2073.65M2059.15 479.1H2073.65" fill="none" stroke="#f0932b" stroke-width="2.7"/>
<g fill="none" stroke="#f0932b" stroke-width="3"><circle cx="2066.4" cy="314.5" r="4.85"/><circle cx="2066.4" cy="373.3" r="4.85"/><circle cx="2074.9" cy="392.9" r="4.85"/><circle cx="2058.3" cy="396.5" r="4.85"/><circle cx="2066.4" cy="426.7" r="4.85"/><circle cx="2066.4" cy="485.9" r="4.85"/><circle cx="2066.4" cy="501.1" r="4.85"/><circle cx="2066.4" cy="523.4" r="4.85"/><circle cx="2066.4" cy="548.4" r="4.85"/><circle cx="2066.4" cy="562.4" r="4.85"/></g>
<path d="M2106.5 475.4V539.3M2099.25 475.4H2113.75M2099.25 539.3H2113.75" fill="none" stroke="#4069b3" stroke-width="2.7"/>
<g fill="none" stroke="#4069b3" stroke-width="3"><circle cx="2106.5" cy="256.5" r="4.85"/><circle cx="2106.5" cy="438.2" r="4.85"/><circle cx="2106.5" cy="495.2" r="4.85"/><circle cx="2106.5" cy="516.1" r="4.85"/><circle cx="2115.1" cy="527.1" r="4.85"/><circle cx="2098.2" cy="536.1" r="4.85"/><circle cx="2106.5" cy="547.9" r="4.85"/><circle cx="2098.2" cy="561.9" r="4.85"/><circle cx="2115.1" cy="568.7" r="4.85"/><circle cx="2106.5" cy="629.2" r="4.85"/></g>
<path d="M1881.2 264.65V199.4H1921.2V411.35" fill="none" stroke="#000" stroke-width="3.3" stroke-linecap="round"/>
<text x="1869.69" y="180.5" font-size="22.7" textLength="65.82" lengthAdjust="spacingAndGlyphs" fill="#000">0.0054</text>
</g>
<g>
<text x="758.24" y="797.5" font-size="44" font-weight="bold">e</text>
<text x="811.2" y="861" font-size="31.1">Skeletal muscle</text>
<text x="844.8" y="1298.15" font-size="31.1" transform="rotate(-90 844.8 1298.15)">Relative mRNA levels</text>
<text x="894.4" y="1408.8" font-size="31.1" text-anchor="end">0</text>
<text x="894.4" y="1283.8" font-size="31.1" text-anchor="end">1</text>
<text x="894.4" y="1158.8" font-size="31.1" text-anchor="end">2</text>
<text x="894.4" y="1034.4" font-size="31.1" text-anchor="end">3</text>
<text x="894.4" y="909" font-size="31.1" text-anchor="end">4</text>
<text x="973.37" y="1448.8" font-size="31.1" font-style="italic">Nd1</text>
<text x="1150.99" y="1448.8" font-size="31.1" font-style="italic">Cox1</text>
<text x="1335.19" y="1448.8" font-size="31.1" font-style="italic">Cytb</text>
<path d="M931.4 1402.2V1268.55H955V1402.2" fill="none" stroke="#000000" stroke-width="3.1"/>
<path d="M970.4 1402.2V1248.15H994V1402.2" fill="none" stroke="#e5362c" stroke-width="3.1"/>
<path d="M1009 1402.2V1206.75H1032.6V1402.2" fill="none" stroke="#f0932b" stroke-width="3.1"/>
<path d="M1048 1402.2V1243.55H1071.6V1402.2" fill="none" stroke="#4069b3" stroke-width="3.1"/>
<path d="M1112.9 1402.2V1268.55H1136.5V1402.2" fill="none" stroke="#000000" stroke-width="3.1"/>
<path d="M1152 1402.2V1264.85H1175.6V1402.2" fill="none" stroke="#e5362c" stroke-width="3.1"/>
<path d="M1190.7 1402.2V1204.85H1214.3V1402.2" fill="none" stroke="#f0932b" stroke-width="3.1"/>
<path d="M1229.9 1402.2V1264.35H1253.5V1402.2" fill="none" stroke="#4069b3" stroke-width="3.1"/>
<path d="M1294.5 1402.2V1266.85H1318.1V1402.2" fill="none" stroke="#000000" stroke-width="3.1"/>
<path d="M1333.5 1402.2V1269.25H1357.1V1402.2" fill="none" stroke="#e5362c" stroke-width="3.1"/>
<path d="M1372.2 1402.2V1204.35H1395.8V1402.2" fill="none" stroke="#f0932b" stroke-width="3.1"/>
<path d="M1411.4 1402.2V1255.05H1435V1402.2" fill="none" stroke="#4069b3" stroke-width="3.1"/>
<path d="M917.6 896.7V1403.8M903.8 1402.2H1448.9M904.1 1402.2H917.6M904.1 1276.3H917.6M904.1 1150.4H917.6M904.1 1024.5H917.6M904.1 898.6H917.6M1000.5 1402.2V1409.4M1182.2 1402.2V1409.4M1364 1402.2V1409.4" fill="none" stroke="#000" stroke-width="3.2"/>
<path d="M943.2 1248.1V1283.4M935.95 1248.1H950.45M935.95 1283.4H950.45" fill="none" stroke="#000000" stroke-width="2.7"/>
<g fill="none" stroke="#000000" stroke-width="3"><circle cx="943.1" cy="1146.5" r="4.85"/><circle cx="943.1" cy="1201.3" r="4.85"/><circle cx="943.1" cy="1227.8" r="4.85"/><circle cx="935" cy="1263.3" r="4.85"/><circle cx="943.1" cy="1260.8" r="4.85"/><circle cx="951.4" cy="1269.4" r="4.85"/><circle cx="943.1" cy="1278" r="4.85"/><circle cx="943.1" cy="1302.5" r="4.85"/><circle cx="951.4" cy="1306.9" r="4.85"/><circle cx="943.1" cy="1315.9" r="4.85"/><circle cx="943.1" cy="1351.5" r="4.85"/></g>
<path d="M982.2 1240V1257.2M974.95 1240H989.45M974.95 1257.2H989.45" fill="none" stroke="#e5362c" stroke-width="2.7"/>
<g fill="none" stroke="#e5362c" stroke-width="3"><circle cx="982" cy="1155" r="4.85"/><circle cx="982" cy="1233.9" r="4.85"/><circle cx="973.5" cy="1241.7" r="4.85"/><circle cx="990.6" cy="1239.3" r="4.85"/><circle cx="978.4" cy="1243.7" r="4.85"/><circle cx="985.7" cy="1243.7" r="4.85"/><circle cx="982" cy="1248.6" r="4.85"/><circle cx="978.4" cy="1258.4" r="4.85"/><circle cx="986.9" cy="1260.8" r="4.85"/><circle cx="982" cy="1269.4" r="4.85"/><circle cx="982" cy="1285.3" r="4.85"/><circle cx="982" cy="1295.6" r="4.85"/></g>
<path d="M1020.8 1186.1V1224.1M1013.55 1186.1H1028.05M1013.55 1224.1H1028.05" fill="none" stroke="#f0932b" stroke-width="2.7"/>
<g fill="none" stroke="#f0932b" stroke-width="3"><circle cx="1020.7" cy="1074.2" r="4.85"/><circle cx="1020.7" cy="1114.6" r="4.85"/><circle cx="1020.7" cy="1140.8" r="4.85"/><circle cx="1012.7" cy="1191.8" r="4.85"/><circle cx="1029.1" cy="1197.7" r="4.85"/><circle cx="1020.7" cy="1218" r="4.85"/><circle cx="1029.1" cy="1229" r="4.85"/><circle cx="1012.7" cy="1237.6" r="4.85"/><circle cx="1029.1" cy="1243.2" r="4.85"/><circle cx="1012.7" cy="1262.1" r="4.85"/><circle cx="1029.1" cy="1266.5" r="4.85"/><circle cx="1020.7" cy="1287.8" r="4.85"/></g>
<path d="M1059.8 1214.8V1268.9M1052.55 1214.8H1067.05M1052.55 1268.9H1067.05" fill="none" stroke="#4069b3" stroke-width="2.7"/>
<g fill="none" stroke="#4069b3" stroke-width="3"><circle cx="1059.7" cy="1031.1" r="4.85"/><circle cx="1059.7" cy="1168.3" r="4.85"/><circle cx="1051.8" cy="1200.8" r="4.85"/><circle cx="1060.4" cy="1206.5" r="4.85"/><circle cx="1059.7" cy="1229" r="4.85"/><circle cx="1059.7" cy="1267" r="4.85"/><circle cx="1059.7" cy="1278.7" r="4.85"/><circle cx="1059.7" cy="1300.8" r="4.85"/><circle cx="1059.7" cy="1323.3" r="4.85"/><circle cx="1051.8" cy="1328.2" r="4.85"/><circle cx="1068.3" cy="1327.7" r="4.85"/></g>
<path d="M1124.7 1256V1281.7M1117.45 1256H1131.95M1117.45 1281.7H1131.95" fill="none" stroke="#000000" stroke-width="2.7"/>
<g fill="none" stroke="#000000" stroke-width="3"><circle cx="1124.6" cy="1165.3" r="4.85"/><circle cx="1124.6" cy="1209.4" r="4.85"/><circle cx="1124.6" cy="1227.8" r="4.85"/><circle cx="1120.4" cy="1254.2" r="4.85"/><circle cx="1129" cy="1254.2" r="4.85"/><circle cx="1124.6" cy="1264.5" r="4.85"/><circle cx="1115.5" cy="1297.1" r="4.85"/><circle cx="1124.6" cy="1301.3" r="4.85"/><circle cx="1133.2" cy="1303.7" r="4.85"/><circle cx="1124.6" cy="1313" r="4.85"/><circle cx="1124.6" cy="1340" r="4.85"/></g>
<path d="M1163.8 1249.8V1273M1156.55 1249.8H1171.05M1156.55 1273H1171.05" fill="none" stroke="#e5362c" stroke-width="2.7"/>
<g fill="none" stroke="#e5362c" stroke-width="3"><circle cx="1163.8" cy="1161.6" r="4.85"/><circle cx="1163.8" cy="1239.3" r="4.85"/><circle cx="1155.9" cy="1252.3" r="4.85"/><circle cx="1163.8" cy="1255.9" r="4.85"/><circle cx="1171.9" cy="1262.1" r="4.85"/><circle cx="1155.9" cy="1264.5" r="4.85"/><circle cx="1163.8" cy="1267" r="4.85"/><circle cx="1171.9" cy="1269.4" r="4.85"/><circle cx="1155.9" cy="1274.3" r="4.85"/><circle cx="1163.8" cy="1280.4" r="4.85"/><circle cx="1171.9" cy="1279.2" r="4.85"/><circle cx="1171.9" cy="1290.2" r="4.85"/><circle cx="1155.9" cy="1298.8" r="4.85"/></g>
<path d="M1202.5 1179.5V1225.3M1195.25 1179.5H1209.75M1195.25 1225.3H1209.75" fill="none" stroke="#f0932b" stroke-width="2.7"/>
<g fill="none" stroke="#f0932b" stroke-width="3"><circle cx="1202.5" cy="1051.4" r="4.85"/><circle cx="1202.5" cy="1092.3" r="4.85"/><circle cx="1202.5" cy="1116.8" r="4.85"/><circle cx="1211" cy="1191" r="4.85"/><circle cx="1193.9" cy="1198.4" r="4.85"/><circle cx="1202.5" cy="1199.6" r="4.85"/><circle cx="1193.9" cy="1242.5" r="4.85"/><circle cx="1202.5" cy="1244.9" r="4.85"/><circle cx="1211" cy="1243.2" r="4.85"/><circle cx="1202.5" cy="1271.9" r="4.85"/><circle cx="1206.9" cy="1287.8" r="4.85"/><circle cx="1198.3" cy="1293.9" r="4.85"/></g>
<path d="M1241.7 1243.7V1281.2M1234.45 1243.7H1248.95M1234.45 1281.2H1248.95" fill="none" stroke="#4069b3" stroke-width="2.7"/>
<g fill="none" stroke="#4069b3" stroke-width="3"><circle cx="1241.7" cy="1173.9" r="4.85"/><circle cx="1241.7" cy="1185.7" r="4.85"/><circle cx="1241.7" cy="1197.2" r="4.85"/><circle cx="1241.7" cy="1212.6" r="4.85"/><circle cx="1241.7" cy="1240" r="4.85"/><circle cx="1241.7" cy="1267" r="4.85"/><circle cx="1241.7" cy="1295.1" r="4.85"/><circle cx="1241.7" cy="1306.6" r="4.85"/><circle cx="1241.7" cy="1331.1" r="4.85"/><circle cx="1250.2" cy="1335.1" r="4.85"/><circle cx="1233.6" cy="1341.7" r="4.85"/></g>
<path d="M1306.3 1247.4V1283.4M1299.05 1247.4H1313.55M1299.05 1283.4H1313.55" fill="none" stroke="#000000" stroke-width="2.7"/>
<g fill="none" stroke="#000000" stroke-width="3"><circle cx="1306.3" cy="1151.4" r="4.85"/><circle cx="1298.2" cy="1210.1" r="4.85"/><circle cx="1306.3" cy="1212.6" r="4.85"/><circle cx="1306.3" cy="1233.2" r="4.85"/><circle cx="1298.2" cy="1258.4" r="4.85"/><circle cx="1306.3" cy="1267" r="4.85"/><circle cx="1298.2" cy="1303" r="4.85"/><circle cx="1314.9" cy="1298.8" r="4.85"/><circle cx="1306.3" cy="1312.3" r="4.85"/><circle cx="1314.9" cy="1312.3" r="4.85"/><circle cx="1306.3" cy="1361.3" r="4.85"/></g>
<path d="M1345.3 1256V1278M1338.05 1256H1352.55M1338.05 1278H1352.55" fill="none" stroke="#e5362c" stroke-width="2.7"/>
<g fill="none" stroke="#e5362c" stroke-width="3"><circle cx="1345.3" cy="1155.5" r="4.85"/><circle cx="1345.3" cy="1249.1" r="4.85"/><circle cx="1336.9" cy="1263.3" r="4.85"/><circle cx="1345.3" cy="1263.3" r="4.85"/><circle cx="1350.4" cy="1265.7" r="4.85"/><circle cx="1336.9" cy="1273.1" r="4.85"/><circle cx="1345.3" cy="1275.5" r="4.85"/><circle cx="1350.4" cy="1276.8" r="4.85"/><circle cx="1345.3" cy="1296.4" r="4.85"/><circle cx="1348" cy="1307.4" r="4.85"/><circle cx="1342.6" cy="1312.3" r="4.85"/></g>
<path d="M1384 1178.1V1226.1M1376.75 1178.1H1391.25M1376.75 1226.1H1391.25" fill="none" stroke="#f0932b" stroke-width="2.7"/>
<g fill="none" stroke="#f0932b" stroke-width="3"><circle cx="1384" cy="1015.9" r="4.85"/><circle cx="1384" cy="1088.9" r="4.85"/><circle cx="1384" cy="1125.6" r="4.85"/><circle cx="1384" cy="1203.3" r="4.85"/><circle cx="1384" cy="1217.2" r="4.85"/><circle cx="1384" cy="1229" r="4.85"/><circle cx="1384" cy="1243.7" r="4.85"/><circle cx="1375.6" cy="1250.6" r="4.85"/><circle cx="1392.1" cy="1248.6" r="4.85"/><circle cx="1384" cy="1260.8" r="4.85"/><circle cx="1392.1" cy="1258.4" r="4.85"/><circle cx="1384" cy="1291.5" r="4.85"/></g>
<path d="M1423.2 1224.8V1281.2M1415.95 1224.8H1430.45M1415.95 1281.2H1430.45" fill="none" stroke="#4069b3" stroke-width="2.7"/>
<g fill="none" stroke="#4069b3" stroke-width="3"><circle cx="1423.2" cy="1008.1" r="4.85"/><circle cx="1415.3" cy="1218.5" r="4.85"/><circle cx="1431.2" cy="1226.1" r="4.85"/><circle cx="1415.3" cy="1231.5" r="4.85"/><circle cx="1431.2" cy="1236.4" r="4.85"/><circle cx="1423.2" cy="1254" r="4.85"/><circle cx="1423.2" cy="1273.6" r="4.85"/><circle cx="1423.2" cy="1315.5" r="4.85"/><circle cx="1423.2" cy="1334.8" r="4.85"/><circle cx="1415.3" cy="1342.4" r="4.85"/><circle cx="1431.2" cy="1341.7" r="4.85"/></g>
</g>
<g>
<text x="1457.93" y="798.3" font-size="44" font-weight="bold">f</text>
<text x="1492.9" y="861" font-size="31.1">Skeletal muscle</text>
<text x="1532" y="1303.07" font-size="31.1" transform="rotate(-90 1532 1303.07)">Relative mtDNA levels</text>
<text x="1599.9" y="1414" font-size="31.1" text-anchor="end">0.0</text>
<text x="1599.9" y="1313.1" font-size="31.1" text-anchor="end">0.5</text>
<text x="1599.9" y="1212.2" font-size="31.1" text-anchor="end">1.0</text>
<text x="1599.9" y="1111.7" font-size="31.1" text-anchor="end">1.5</text>
<text x="1599.9" y="1011.1" font-size="31.1" text-anchor="end">2.0</text>
<text x="1599.9" y="910.4" font-size="31.1" text-anchor="end">2.5</text>
<text x="1672.17" y="1452.1" font-size="31.1" font-style="italic">Nd1</text>
<text x="1851.19" y="1452.1" font-size="31.1" font-style="italic">Cox1</text>
<text x="2034.09" y="1452.1" font-size="31.1" font-style="italic">Cytb</text>
<path d="M1637 1402.2V1202.35H1660.6V1402.2" fill="none" stroke="#000000" stroke-width="3.1"/>
<path d="M1676.1 1402.2V1256.75H1699.7V1402.2" fill="none" stroke="#e5362c" stroke-width="3.1"/>
<path d="M1714.8 1402.2V1209.25H1738.4V1402.2" fill="none" stroke="#f0932b" stroke-width="3.1"/>
<path d="M1754 1402.2V1295.95H1777.6V1402.2" fill="none" stroke="#4069b3" stroke-width="3.1"/>
<path d="M1818.6 1402.2V1201.85H1842.2V1402.2" fill="none" stroke="#000000" stroke-width="3.1"/>
<path d="M1857.8 1402.2V1226.35H1881.4V1402.2" fill="none" stroke="#e5362c" stroke-width="3.1"/>
<path d="M1896.3 1402.2V1228.55H1919.9V1402.2" fill="none" stroke="#f0932b" stroke-width="3.1"/>
<path d="M1935.5 1402.2V1287.65H1959.1V1402.2" fill="none" stroke="#4069b3" stroke-width="3.1"/>
<path d="M2000.4 1402.2V1202.35H2024V1402.2" fill="none" stroke="#000000" stroke-width="3.1"/>
<path d="M2039.4 1402.2V1272.95H2063V1402.2" fill="none" stroke="#e5362c" stroke-width="3.1"/>
<path d="M2078.1 1402.2V1202.85H2101.7V1402.2" fill="none" stroke="#f0932b" stroke-width="3.1"/>
<path d="M2117.3 1402.2V1251.35H2140.9V1402.2" fill="none" stroke="#4069b3" stroke-width="3.1"/>
<path d="M1623.5 896.6V1403.8M1610.2 1402.2H2156M1610 1402.2H1623.5M1610 1301.4H1623.5M1610 1200.6H1623.5M1610 1099.8H1623.5M1610 999H1623.5M1610 898.2H1623.5M1706.5 1402.2V1409.4M1888 1402.2V1409.4M2069.8 1402.2V1409.4" fill="none" stroke="#000" stroke-width="3.2"/>
<path d="M1648.8 1184.4V1216.3M1641.55 1184.4H1656.05M1641.55 1216.3H1656.05" fill="none" stroke="#000000" stroke-width="2.7"/>
<g fill="none" stroke="#000000" stroke-width="3"><circle cx="1648.7" cy="1144.8" r="4.85"/><circle cx="1640.6" cy="1186.1" r="4.85"/><circle cx="1657" cy="1186.9" r="4.85"/><circle cx="1648.7" cy="1198.4" r="4.85"/><circle cx="1657" cy="1239.3" r="4.85"/><circle cx="1640.6" cy="1246.9" r="4.85"/></g>
<path d="M1687.9 1208.9V1301.3M1680.65 1208.9H1695.15M1680.65 1301.3H1695.15" fill="none" stroke="#e5362c" stroke-width="2.7"/>
<g fill="none" stroke="#e5362c" stroke-width="3"><circle cx="1687.9" cy="1097" r="4.85"/><circle cx="1687.9" cy="1133.2" r="4.85"/><circle cx="1696.2" cy="1299.5" r="4.85"/><circle cx="1679.8" cy="1307.9" r="4.85"/><circle cx="1696.2" cy="1311.8" r="4.85"/><circle cx="1687.9" cy="1379.1" r="4.85"/></g>
<path d="M1726.6 1154.3V1260.1M1719.35 1154.3H1733.85M1719.35 1260.1H1733.85" fill="none" stroke="#f0932b" stroke-width="2.7"/>
<g fill="none" stroke="#f0932b" stroke-width="3"><circle cx="1726.6" cy="1033.6" r="4.85"/><circle cx="1726.6" cy="1060.5" r="4.85"/><circle cx="1726.6" cy="1224.6" r="4.85"/><circle cx="1726.6" cy="1273.1" r="4.85"/><circle cx="1726.6" cy="1312.3" r="4.85"/><circle cx="1726.6" cy="1339.7" r="4.85"/></g>
<path d="M1765.8 1277.3V1311.8M1758.55 1277.3H1773.05M1758.55 1311.8H1773.05" fill="none" stroke="#4069b3" stroke-width="2.7"/>
<g fill="none" stroke="#4069b3" stroke-width="3"><circle cx="1765.8" cy="1253.5" r="4.85"/><circle cx="1757.7" cy="1275" r="4.85"/><circle cx="1773.6" cy="1273.1" r="4.85"/><circle cx="1765.8" cy="1329.4" r="4.85"/><circle cx="1765.8" cy="1339.2" r="4.85"/></g>
<path d="M1830.4 1182.5V1218.7M1823.15 1182.5H1837.65M1823.15 1218.7H1837.65" fill="none" stroke="#000000" stroke-width="2.7"/>
<g fill="none" stroke="#000000" stroke-width="3"><circle cx="1830.4" cy="1126.9" r="4.85"/><circle cx="1830.4" cy="1178.8" r="4.85"/><circle cx="1822.6" cy="1207.4" r="4.85"/><circle cx="1839" cy="1204.5" r="4.85"/><circle cx="1830.4" cy="1226.5" r="4.85"/><circle cx="1830.4" cy="1258.4" r="4.85"/></g>
<path d="M1869.6 1180V1269.4M1862.35 1180H1876.85M1862.35 1269.4H1876.85" fill="none" stroke="#e5362c" stroke-width="2.7"/>
<g fill="none" stroke="#e5362c" stroke-width="3"><circle cx="1861.5" cy="1091.1" r="4.85"/><circle cx="1877.7" cy="1087" r="4.85"/><circle cx="1869.6" cy="1237.6" r="4.85"/><circle cx="1869.6" cy="1293.4" r="4.85"/><circle cx="1877.7" cy="1318.4" r="4.85"/><circle cx="1861.5" cy="1322.1" r="4.85"/></g>
<path d="M1908.1 1178.3V1274.3M1900.85 1178.3H1915.35M1900.85 1274.3H1915.35" fill="none" stroke="#f0932b" stroke-width="2.7"/>
<g fill="none" stroke="#f0932b" stroke-width="3"><circle cx="1908.1" cy="1061.2" r="4.85"/><circle cx="1908.1" cy="1107" r="4.85"/><circle cx="1908.1" cy="1241.2" r="4.85"/><circle cx="1908.1" cy="1287.3" r="4.85"/><circle cx="1908.1" cy="1315.5" r="4.85"/><circle cx="1908.1" cy="1349.5" r="4.85"/></g>
<path d="M1947.3 1257.9V1313.5M1940.05 1257.9H1954.55M1940.05 1313.5H1954.55" fill="none" stroke="#4069b3" stroke-width="2.7"/>
<g fill="none" stroke="#4069b3" stroke-width="3"><circle cx="1947.3" cy="1183.4" r="4.85"/><circle cx="1947.3" cy="1282.9" r="4.85"/><circle cx="1947.3" cy="1292.7" r="4.85"/><circle cx="1947.3" cy="1325.3" r="4.85"/><circle cx="1947.3" cy="1345.3" r="4.85"/></g>
<path d="M2012.2 1179.3V1222.4M2004.95 1179.3H2019.45M2004.95 1222.4H2019.45" fill="none" stroke="#000000" stroke-width="2.7"/>
<g fill="none" stroke="#000000" stroke-width="3"><circle cx="2012.2" cy="1130.3" r="4.85"/><circle cx="2012.2" cy="1156" r="4.85"/><circle cx="2012.2" cy="1194.7" r="4.85"/><circle cx="2012.2" cy="1208.7" r="4.85"/><circle cx="2012.2" cy="1251.5" r="4.85"/><circle cx="2012.2" cy="1262.1" r="4.85"/></g>
<path d="M2051.2 1219.9V1321.3M2043.95 1219.9H2058.45M2043.95 1321.3H2058.45" fill="none" stroke="#e5362c" stroke-width="2.7"/>
<g fill="none" stroke="#e5362c" stroke-width="3"><circle cx="2051.2" cy="1078.4" r="4.85"/><circle cx="2051.2" cy="1164.8" r="4.85"/><circle cx="2051.2" cy="1292.7" r="4.85"/><circle cx="2051.2" cy="1320.8" r="4.85"/><circle cx="2051.2" cy="1367.9" r="4.85"/><circle cx="2051.2" cy="1400.9" r="4.85"/></g>
<path d="M2089.9 1147.4V1254.7M2082.65 1147.4H2097.15M2082.65 1254.7H2097.15" fill="none" stroke="#f0932b" stroke-width="2.7"/>
<g fill="none" stroke="#f0932b" stroke-width="3"><circle cx="2089.9" cy="978.5" r="4.85"/><circle cx="2089.9" cy="1126.1" r="4.85"/><circle cx="2089.9" cy="1189.1" r="4.85"/><circle cx="2089.9" cy="1288.3" r="4.85"/><circle cx="2089.9" cy="1299.3" r="4.85"/><circle cx="2089.9" cy="1323.3" r="4.85"/></g>
<path d="M2129.1 1208.7V1290.2M2121.85 1208.7H2136.35M2121.85 1290.2H2136.35" fill="none" stroke="#4069b3" stroke-width="2.7"/>
<g fill="none" stroke="#4069b3" stroke-width="3"><circle cx="2129.1" cy="1143" r="4.85"/><circle cx="2129.1" cy="1170.2" r="4.85"/><circle cx="2129.1" cy="1257.2" r="4.85"/><circle cx="2129.1" cy="1325.7" r="4.85"/><circle cx="2129.1" cy="1349.7" r="4.85"/></g>
</g>
<g>
<text x="-1.16" y="1566" font-size="44" font-weight="bold">g</text>
<text x="98.53" y="1605.7" font-size="31.1">Heart</text>
<text x="123.8" y="2079.05" font-size="31.1" transform="rotate(-90 123.8 2079.05)">Relative mRNA levels</text>
<text x="186.3" y="2190.3" font-size="31.1" text-anchor="end">0.0</text>
<text x="186.3" y="2022.2" font-size="31.1" text-anchor="end">0.5</text>
<text x="186.3" y="1853.2" font-size="31.1" text-anchor="end">1.0</text>
<text x="186.3" y="1685" font-size="31.1" text-anchor="end">1.5</text>
<text x="266.47" y="2227.5" font-size="31.1" font-style="italic">Nd1</text>
<text x="444.59" y="2227.5" font-size="31.1" font-style="italic">Cox1</text>
<text x="632.89" y="2227.5" font-size="31.1" font-style="italic">Cytb</text>
<path d="M223 2182.8V1848.05H246.6V2182.8" fill="none" stroke="#000000" stroke-width="3.1"/>
<path d="M262.2 2182.8V1905.65H285.8V2182.8" fill="none" stroke="#e5362c" stroke-width="3.1"/>
<path d="M301.1 2182.8V2003.15H324.7V2182.8" fill="none" stroke="#f0932b" stroke-width="3.1"/>
<path d="M340.1 2182.8V1983.05H363.7V2182.8" fill="none" stroke="#4069b3" stroke-width="3.1"/>
<path d="M405.2 2182.8V1848.05H428.8V2182.8" fill="none" stroke="#000000" stroke-width="3.1"/>
<path d="M444.4 2182.8V1925.95H468V2182.8" fill="none" stroke="#e5362c" stroke-width="3.1"/>
<path d="M483.1 2182.8V1979.15H506.7V2182.8" fill="none" stroke="#f0932b" stroke-width="3.1"/>
<path d="M522.3 2182.8V1985.25H545.9V2182.8" fill="none" stroke="#4069b3" stroke-width="3.1"/>
<path d="M587.3 2182.8V1848.05H610.9V2182.8" fill="none" stroke="#000000" stroke-width="3.1"/>
<path d="M626.5 2182.8V1962.15H650.1V2182.8" fill="none" stroke="#e5362c" stroke-width="3.1"/>
<path d="M665.4 2182.8V1998.65H689V2182.8" fill="none" stroke="#f0932b" stroke-width="3.1"/>
<path d="M704.4 2182.8V2025.65H728V2182.8" fill="none" stroke="#4069b3" stroke-width="3.1"/>
<path d="M209.1 1676.3V2184.4M195.4 2182.8H742.1M195.6 2182.8H209.1M195.6 2014.5H209.1M195.6 1846.1H209.1M195.6 1677.9H209.1M292.8 2182.8V2190M474.9 2182.8V2190M657.1 2182.8V2190" fill="none" stroke="#000" stroke-width="3.2"/>
<path d="M234.8 1817.1V1875.4M227.55 1817.1H242.05M227.55 1875.4H242.05" fill="none" stroke="#000000" stroke-width="2.7"/>
<g fill="none" stroke="#000000" stroke-width="3"><circle cx="234.8" cy="1722.3" r="4.85"/><circle cx="234.8" cy="1827.7" r="4.85"/><circle cx="234.8" cy="1837.9" r="4.85"/><circle cx="226.7" cy="1879.1" r="4.85"/><circle cx="243.1" cy="1885.2" r="4.85"/><circle cx="234.8" cy="1925.1" r="4.85"/></g>
<path d="M274 1886.4V1920.2M266.75 1886.4H281.25M266.75 1920.2H281.25" fill="none" stroke="#e5362c" stroke-width="2.7"/>
<g fill="none" stroke="#e5362c" stroke-width="3"><circle cx="282.3" cy="1853.9" r="4.85"/><circle cx="265.9" cy="1862" r="4.85"/><circle cx="274" cy="1893.3" r="4.85"/><circle cx="274" cy="1922.7" r="4.85"/><circle cx="274" cy="1937.9" r="4.85"/><circle cx="274" cy="1955" r="4.85"/></g>
<path d="M312.9 1980.2V2021.9M305.65 1980.2H320.15M305.65 2021.9H320.15" fill="none" stroke="#f0932b" stroke-width="2.7"/>
<g fill="none" stroke="#f0932b" stroke-width="3"><circle cx="312.9" cy="1931" r="4.85"/><circle cx="312.9" cy="1946.9" r="4.85"/><circle cx="312.9" cy="2006.9" r="4.85"/><circle cx="312.9" cy="2030.2" r="4.85"/><circle cx="321" cy="2044.9" r="4.85"/><circle cx="304.6" cy="2048.8" r="4.85"/></g>
<path d="M351.9 1966V1995.9M344.65 1966H359.15M344.65 1995.9H359.15" fill="none" stroke="#4069b3" stroke-width="2.7"/>
<g fill="none" stroke="#4069b3" stroke-width="3"><circle cx="351.9" cy="1921.5" r="4.85"/><circle cx="351.9" cy="1971.4" r="4.85"/><circle cx="343.8" cy="1977.6" r="4.85"/><circle cx="360.2" cy="1978.3" r="4.85"/><circle cx="356.1" cy="2017" r="4.85"/><circle cx="348" cy="2022.4" r="4.85"/></g>
<path d="M417 1822.8V1869.8M409.75 1822.8H424.25M409.75 1869.8H424.25" fill="none" stroke="#000000" stroke-width="2.7"/>
<g fill="none" stroke="#000000" stroke-width="3"><circle cx="417" cy="1771.8" r="4.85"/><circle cx="408.7" cy="1816.2" r="4.85"/><circle cx="425.1" cy="1825.7" r="4.85"/><circle cx="417" cy="1853.9" r="4.85"/><circle cx="417" cy="1871" r="4.85"/><circle cx="417" cy="1939.1" r="4.85"/></g>
<path d="M456.2 1909V1939.1M448.95 1909H463.45M448.95 1939.1H463.45" fill="none" stroke="#e5362c" stroke-width="2.7"/>
<g fill="none" stroke="#e5362c" stroke-width="3"><circle cx="456.2" cy="1862.4" r="4.85"/><circle cx="447.9" cy="1913.4" r="4.85"/><circle cx="464.3" cy="1917.5" r="4.85"/><circle cx="447.9" cy="1938.4" r="4.85"/><circle cx="464.3" cy="1939.1" r="4.85"/><circle cx="456.2" cy="1971.4" r="4.85"/></g>
<path d="M494.9 1956.7V1997.9M487.65 1956.7H502.15M487.65 1997.9H502.15" fill="none" stroke="#f0932b" stroke-width="2.7"/>
<g fill="none" stroke="#f0932b" stroke-width="3"><circle cx="503" cy="1912.6" r="4.85"/><circle cx="486.8" cy="1920.7" r="4.85"/><circle cx="494.9" cy="1977.6" r="4.85"/><circle cx="486.8" cy="2004.7" r="4.85"/><circle cx="503" cy="2009.6" r="4.85"/><circle cx="494.9" cy="2035.8" r="4.85"/></g>
<path d="M534.1 1963.6V2002.8M526.85 1963.6H541.35M526.85 2002.8H541.35" fill="none" stroke="#4069b3" stroke-width="2.7"/>
<g fill="none" stroke="#4069b3" stroke-width="3"><circle cx="534.1" cy="1910.2" r="4.85"/><circle cx="534.1" cy="1947.7" r="4.85"/><circle cx="534.1" cy="1980.2" r="4.85"/><circle cx="534.1" cy="2000.3" r="4.85"/><circle cx="534.1" cy="2021.1" r="4.85"/><circle cx="534.1" cy="2037.6" r="4.85"/></g>
<path d="M599.1 1822.8V1868.8M591.85 1822.8H606.35M591.85 1868.8H606.35" fill="none" stroke="#000000" stroke-width="2.7"/>
<g fill="none" stroke="#000000" stroke-width="3"><circle cx="599.1" cy="1780.4" r="4.85"/><circle cx="599.1" cy="1791.7" r="4.85"/><circle cx="599.1" cy="1836.7" r="4.85"/><circle cx="599.1" cy="1853.9" r="4.85"/><circle cx="599.1" cy="1882.8" r="4.85"/><circle cx="599.1" cy="1930.5" r="4.85"/></g>
<path d="M638.3 1946.4V1972.7M631.05 1946.4H645.55M631.05 1972.7H645.55" fill="none" stroke="#e5362c" stroke-width="2.7"/>
<g fill="none" stroke="#e5362c" stroke-width="3"><circle cx="638.3" cy="1907.7" r="4.85"/><circle cx="630.2" cy="1950.9" r="4.85"/><circle cx="646.6" cy="1957" r="4.85"/><circle cx="630.2" cy="1964.1" r="4.85"/><circle cx="638.3" cy="1984.4" r="4.85"/><circle cx="638.3" cy="1997.9" r="4.85"/></g>
<path d="M677.2 1964.3V2028.5M669.95 1964.3H684.45M669.95 2028.5H684.45" fill="none" stroke="#f0932b" stroke-width="2.7"/>
<g fill="none" stroke="#f0932b" stroke-width="3"><circle cx="677.2" cy="1892.1" r="4.85"/><circle cx="677.2" cy="1922.4" r="4.85"/><circle cx="677.2" cy="1972.9" r="4.85"/><circle cx="677.2" cy="2051.3" r="4.85"/><circle cx="685.3" cy="2068.9" r="4.85"/><circle cx="668.9" cy="2074.5" r="4.85"/></g>
<path d="M716.2 2012.1V2035.1M708.95 2012.1H723.45M708.95 2035.1H723.45" fill="none" stroke="#4069b3" stroke-width="2.7"/>
<g fill="none" stroke="#4069b3" stroke-width="3"><circle cx="716.2" cy="1977.8" r="4.85"/><circle cx="708.1" cy="2008.9" r="4.85"/><circle cx="716.2" cy="2015" r="4.85"/><circle cx="716.2" cy="2044.4" r="4.85"/><circle cx="708.1" cy="2048.6" r="4.85"/><circle cx="724.5" cy="2047.6" r="4.85"/></g>
<path d="M234.4 1693.9V1665.8H312.8V1902.8" fill="none" stroke="#000" stroke-width="3.8" stroke-linecap="round"/>
<text x="235.91" y="1647.7" font-size="22.7" textLength="78.39" lengthAdjust="spacingAndGlyphs" fill="#000">&lt;0.0001</text>
<path d="M417 1743.6V1665.8H494.8V1884.3" fill="none" stroke="#000" stroke-width="3.8" stroke-linecap="round"/>
<text x="424.39" y="1647.7" font-size="22.7" textLength="65.82" lengthAdjust="spacingAndGlyphs" fill="#000">0.0002</text>
<path d="M599.1 1753.8V1665.8H638.3V1879.1" fill="none" stroke="#000" stroke-width="3.8" stroke-linecap="round"/>
<text x="586.79" y="1647.7" font-size="22.7" textLength="65.82" lengthAdjust="spacingAndGlyphs" fill="#000">0.0014</text>
<path d="M599.1 1612.9V1585.6H677.3V1612.9" fill="none" stroke="#000" stroke-width="3.8" stroke-linecap="round"/>
<text x="600.21" y="1566.5" font-size="22.7" textLength="78.39" lengthAdjust="spacingAndGlyphs" fill="#000">&lt;0.0001</text>
</g>
<g>
<text x="758.92" y="1565.7" font-size="44" font-weight="bold">h</text>
<text x="814.43" y="1605.6" font-size="31.1">BAT</text>
<text x="854.6" y="2081.45" font-size="31.1" transform="rotate(-90 854.6 2081.45)">Relative mRNA levels</text>
<text x="890.8" y="2192.1" font-size="31.1" text-anchor="end">0</text>
<text x="890.8" y="2091.4" font-size="31.1" text-anchor="end">1</text>
<text x="890.8" y="1990.8" font-size="31.1" text-anchor="end">2</text>
<text x="890.8" y="1890.1" font-size="31.1" text-anchor="end">3</text>
<text x="890.8" y="1789.6" font-size="31.1" text-anchor="end">4</text>
<text x="890.8" y="1688.7" font-size="31.1" text-anchor="end">5</text>
<text x="973.57" y="2228.2" font-size="31.1" font-style="italic">Nd1</text>
<text x="1152.19" y="2228.2" font-size="31.1" font-style="italic">Cox1</text>
<text x="1339.29" y="2228.2" font-size="31.1" font-style="italic">Cytb</text>
<path d="M927.75 2181.6V2082.75H951.65V2181.6" fill="none" stroke="#000000" stroke-width="3.1"/>
<path d="M967.15 2181.6V2096.15H991.05V2181.6" fill="none" stroke="#e5362c" stroke-width="3.1"/>
<path d="M1006.55 2181.6V1903.95H1030.45V2181.6" fill="none" stroke="#f0932b" stroke-width="3.1"/>
<path d="M1046.25 2181.6V1941.85H1070.15V2181.6" fill="none" stroke="#4069b3" stroke-width="3.1"/>
<path d="M1111.65 2181.6V2082.75H1135.55V2181.6" fill="none" stroke="#000000" stroke-width="3.1"/>
<path d="M1151.55 2181.6V2094.45H1175.45V2181.6" fill="none" stroke="#e5362c" stroke-width="3.1"/>
<path d="M1191.05 2181.6V1991.35H1214.95V2181.6" fill="none" stroke="#f0932b" stroke-width="3.1"/>
<path d="M1230.45 2181.6V2004.85H1254.35V2181.6" fill="none" stroke="#4069b3" stroke-width="3.1"/>
<path d="M1295.95 2181.6V2083.15H1319.85V2181.6" fill="none" stroke="#000000" stroke-width="3.1"/>
<path d="M1335.65 2181.6V2114.55H1359.55V2181.6" fill="none" stroke="#e5362c" stroke-width="3.1"/>
<path d="M1375.05 2181.6V1854.95H1398.95V2181.6" fill="none" stroke="#f0932b" stroke-width="3.1"/>
<path d="M1414.75 2181.6V1971.25H1438.65V2181.6" fill="none" stroke="#4069b3" stroke-width="3.1"/>
<path d="M913.5 1676.4V2183.2M900.2 2181.6H1452.8M900 2181.6H913.5M900 2080.9H913.5M900 1980.2H913.5M900 1879.5H913.5M900 1778.8H913.5M900 1678.1H913.5M998 2181.6V2188.8M1182.3 2181.6V2188.8M1366.4 2181.6V2188.8" fill="none" stroke="#000" stroke-width="3.2"/>
<path d="M939.7 2070.1V2091.7M932.45 2070.1H946.95M932.45 2091.7H946.95" fill="none" stroke="#000000" stroke-width="2.7"/>
<g fill="none" stroke="#000000" stroke-width="3"><circle cx="939.7" cy="2041.5" r="4.85"/><circle cx="931.3" cy="2063.5" r="4.85"/><circle cx="948.2" cy="2072.6" r="4.85"/><circle cx="939.7" cy="2095.4" r="4.85"/><circle cx="931.3" cy="2106.9" r="4.85"/><circle cx="948.2" cy="2106.9" r="4.85"/></g>
<path d="M979.1 2075.5V2113.7M971.85 2075.5H986.35M971.85 2113.7H986.35" fill="none" stroke="#e5362c" stroke-width="2.7"/>
<g fill="none" stroke="#e5362c" stroke-width="3"><circle cx="971" cy="2053.7" r="4.85"/><circle cx="979.1" cy="2053.7" r="4.85"/><circle cx="987.7" cy="2053.7" r="4.85"/><circle cx="974.7" cy="2122.3" r="4.85"/><circle cx="983.3" cy="2125.7" r="4.85"/><circle cx="979.1" cy="2158.3" r="4.85"/></g>
<path d="M1018.5 1887.7V1916.6M1011.25 1887.7H1025.75M1011.25 1916.6H1025.75" fill="none" stroke="#f0932b" stroke-width="2.7"/>
<g fill="none" stroke="#f0932b" stroke-width="3"><circle cx="1018.5" cy="1852.2" r="4.85"/><circle cx="1018.5" cy="1875.4" r="4.85"/><circle cx="1018.5" cy="1889.6" r="4.85"/><circle cx="1010.2" cy="1926.9" r="4.85"/><circle cx="1026.9" cy="1928.1" r="4.85"/><circle cx="1018.5" cy="1941.5" r="4.85"/></g>
<path d="M1058.2 1884.7V1995.4M1050.95 1884.7H1065.45M1050.95 1995.4H1065.45" fill="none" stroke="#4069b3" stroke-width="2.7"/>
<g fill="none" stroke="#4069b3" stroke-width="3"><circle cx="1058.2" cy="1810.5" r="4.85"/><circle cx="1066.5" cy="1879.1" r="4.85"/><circle cx="1049.9" cy="1888.4" r="4.85"/><circle cx="1058.2" cy="1997.9" r="4.85"/><circle cx="1058.2" cy="2124.5" r="4.85"/></g>
<path d="M1123.6 2076.3V2086M1116.35 2076.3H1130.85M1116.35 2086H1130.85" fill="none" stroke="#000000" stroke-width="2.7"/>
<g fill="none" stroke="#000000" stroke-width="3"><circle cx="1123.6" cy="2046.4" r="4.85"/><circle cx="1123.6" cy="2074.5" r="4.85"/><circle cx="1115.5" cy="2081.6" r="4.85"/><circle cx="1131.4" cy="2084.8" r="4.85"/><circle cx="1123.6" cy="2088.5" r="4.85"/><circle cx="1123.6" cy="2108.8" r="4.85"/></g>
<path d="M1163.5 2079.9V2104.4M1156.25 2079.9H1170.75M1156.25 2104.4H1170.75" fill="none" stroke="#e5362c" stroke-width="2.7"/>
<g fill="none" stroke="#e5362c" stroke-width="3"><circle cx="1163.5" cy="2050.5" r="4.85"/><circle cx="1159.6" cy="2070.1" r="4.85"/><circle cx="1167.7" cy="2073.3" r="4.85"/><circle cx="1163.5" cy="2116.7" r="4.85"/><circle cx="1155.5" cy="2124" r="4.85"/><circle cx="1171.9" cy="2119.1" r="4.85"/></g>
<path d="M1203 1979.5V1994.2M1195.75 1979.5H1210.25M1195.75 1994.2H1210.25" fill="none" stroke="#f0932b" stroke-width="2.7"/>
<g fill="none" stroke="#f0932b" stroke-width="3"><circle cx="1198.8" cy="1966.8" r="4.85"/><circle cx="1206.9" cy="1970.5" r="4.85"/><circle cx="1195.1" cy="1986.9" r="4.85"/><circle cx="1203" cy="1985.6" r="4.85"/><circle cx="1211" cy="1988.1" r="4.85"/><circle cx="1203" cy="2017.5" r="4.85"/></g>
<path d="M1242.4 1978.8V2026M1235.15 1978.8H1249.65M1235.15 2026H1249.65" fill="none" stroke="#4069b3" stroke-width="2.7"/>
<g fill="none" stroke="#4069b3" stroke-width="3"><circle cx="1242.4" cy="1943.3" r="4.85"/><circle cx="1242.4" cy="1959.9" r="4.85"/><circle cx="1242.4" cy="1970.9" r="4.85"/><circle cx="1242.4" cy="1999.1" r="4.85"/><circle cx="1242.4" cy="2046.9" r="4.85"/><circle cx="1242.4" cy="2096.3" r="4.85"/></g>
<path d="M1307.9 2065.7V2097.1M1300.65 2065.7H1315.15M1300.65 2097.1H1315.15" fill="none" stroke="#000000" stroke-width="2.7"/>
<g fill="none" stroke="#000000" stroke-width="3"><circle cx="1299.8" cy="2045.2" r="4.85"/><circle cx="1307.9" cy="2048.1" r="4.85"/><circle cx="1317" cy="2047.6" r="4.85"/><circle cx="1317" cy="2108.1" r="4.85"/><circle cx="1307.9" cy="2111.8" r="4.85"/><circle cx="1307.9" cy="2127.7" r="4.85"/></g>
<path d="M1347.6 2094.6V2131.4M1340.35 2094.6H1354.85M1340.35 2131.4H1354.85" fill="none" stroke="#e5362c" stroke-width="2.7"/>
<g fill="none" stroke="#e5362c" stroke-width="3"><circle cx="1347.6" cy="2054.9" r="4.85"/><circle cx="1347.6" cy="2069.6" r="4.85"/><circle cx="1347.6" cy="2094.6" r="4.85"/><circle cx="1347.6" cy="2139.9" r="4.85"/><circle cx="1347.6" cy="2151.4" r="4.85"/><circle cx="1347.6" cy="2166.4" r="4.85"/></g>
<path d="M1387 1819.8V1884.7M1379.75 1819.8H1394.25M1379.75 1884.7H1394.25" fill="none" stroke="#f0932b" stroke-width="2.7"/>
<g fill="none" stroke="#f0932b" stroke-width="3"><circle cx="1395.3" cy="1773.3" r="4.85"/><circle cx="1378.7" cy="1776.7" r="4.85"/><circle cx="1387" cy="1808.6" r="4.85"/><circle cx="1378.7" cy="1888.4" r="4.85"/><circle cx="1395.3" cy="1893.3" r="4.85"/><circle cx="1387" cy="1974.1" r="4.85"/></g>
<path d="M1426.7 1910.4V2027.8M1419.45 1910.4H1433.95M1419.45 2027.8H1433.95" fill="none" stroke="#4069b3" stroke-width="2.7"/>
<g fill="none" stroke="#4069b3" stroke-width="3"><circle cx="1426.7" cy="1803.2" r="4.85"/><circle cx="1426.7" cy="1858.8" r="4.85"/><circle cx="1426.7" cy="1869.8" r="4.85"/><circle cx="1426.7" cy="2045.2" r="4.85"/><circle cx="1426.7" cy="2081.6" r="4.85"/><circle cx="1426.7" cy="2156.6" r="4.85"/></g>
<path d="M939.7 2012.85V1717.4H1018.5V1822.85" fill="none" stroke="#000" stroke-width="3.3" stroke-linecap="round"/>
<text x="945.69" y="1699" font-size="22.7" textLength="65.82" lengthAdjust="spacingAndGlyphs" fill="#000">0.0001</text>
<path d="M1123.6 2017.05V1717.4H1203V1938.15" fill="none" stroke="#000" stroke-width="3.3" stroke-linecap="round"/>
<text x="1130.39" y="1699" font-size="22.7" textLength="65.82" lengthAdjust="spacingAndGlyphs" fill="#000">0.0762</text>
<path d="M1307.9 2016.35V1717.4H1377.4V1744.45" fill="none" stroke="#000" stroke-width="3.3" stroke-linecap="round"/>
<text x="1302.81" y="1699" font-size="22.7" textLength="78.39" lengthAdjust="spacingAndGlyphs" fill="#000">&lt;0.0001</text>
<path d="M1397 1664.55V1637.7H1426.7V1774.55" fill="none" stroke="#000" stroke-width="3.3" stroke-linecap="round"/>
<text x="1378.79" y="1619.8" font-size="22.7" textLength="65.82" lengthAdjust="spacingAndGlyphs" fill="#000">0.0177</text>
</g>
<g>
<text x="-0.96" y="798.3" font-size="44" font-weight="bold">d</text>
<text x="310.51" y="855.4" font-size="31.8">Chow</text>
<text x="560.78" y="855.5" font-size="31.8">HFD</text>
<text x="256" y="950.8" font-size="31.2" transform="rotate(-43 256 950.8)">Vehicle</text>
<text x="316.3" y="950.8" font-size="31.2" transform="rotate(-43 316.3 950.8)">Vehicle</text>
<text x="375" y="944.9" font-size="31.2" transform="rotate(-43 375 944.9)">IMT</text>
<text x="425.5" y="944.9" font-size="31.2" transform="rotate(-43 425.5 944.9)">IMT</text>
<text x="479.4" y="950.8" font-size="31.2" transform="rotate(-43 479.4 950.8)">Vehicle</text>
<text x="537.6" y="950.8" font-size="31.2" transform="rotate(-43 537.6 950.8)">Vehicle</text>
<text x="608.5" y="944.9" font-size="31.2" transform="rotate(-43 608.5 944.9)">IMT</text>
<text x="665.7" y="944.9" font-size="31.2" transform="rotate(-43 665.7 944.9)">IMT</text>
<defs>
<filter id="bl1_1" x="-30%" y="-300%" width="160%" height="700%"><feGaussianBlur stdDeviation="1.1"/></filter>
<filter id="bl1_6" x="-30%" y="-300%" width="160%" height="700%"><feGaussianBlur stdDeviation="1.6"/></filter>
<filter id="bl1_8" x="-30%" y="-300%" width="160%" height="700%"><feGaussianBlur stdDeviation="1.8"/></filter>
<filter id="bl2_4" x="-30%" y="-300%" width="160%" height="700%"><feGaussianBlur stdDeviation="2.4"/></filter>
<filter id="bl2_7" x="-30%" y="-300%" width="160%" height="700%"><feGaussianBlur stdDeviation="2.7"/></filter>
<filter id="bl2_9" x="-30%" y="-300%" width="160%" height="700%"><feGaussianBlur stdDeviation="2.9"/></filter>
<filter id="bl3_2" x="-30%" y="-300%" width="160%" height="700%"><feGaussianBlur stdDeviation="3.2"/></filter>
<filter id="bl4" x="-30%" y="-300%" width="160%" height="700%"><feGaussianBlur stdDeviation="4"/></filter>
<filter id="bl5" x="-30%" y="-300%" width="160%" height="700%"><feGaussianBlur stdDeviation="5"/></filter>
<filter id="bl6" x="-30%" y="-300%" width="160%" height="700%"><feGaussianBlur stdDeviation="6"/></filter>
<clipPath id="cp0"><rect x="229.2" y="952" width="481.2" height="63.4"/></clipPath>
<linearGradient id="bg0" x1="0" y1="0" x2="0" y2="1"><stop offset="0" stop-color="#c6c6c6"/><stop offset="1" stop-color="#e2e2e2"/></linearGradient>
<clipPath id="cp1"><rect x="229.2" y="1032.4" width="481.2" height="56.8"/></clipPath>
<linearGradient id="bg1" x1="0" y1="0" x2="0" y2="1"><stop offset="0" stop-color="#dadada"/><stop offset="1" stop-color="#e2e2e2"/></linearGradient>
<clipPath id="cp2"><rect x="229.2" y="1106.3" width="481.2" height="59.8"/></clipPath>
<linearGradient id="bg2" x1="0" y1="0" x2="0" y2="1"><stop offset="0" stop-color="#dcdcdc"/><stop offset="1" stop-color="#e0e0e0"/></linearGradient>
<clipPath id="cp3"><rect x="229.2" y="1183.9" width="481.2" height="58.1"/></clipPath>
<linearGradient id="bg3" x1="0" y1="0" x2="0" y2="1"><stop offset="0" stop-color="#dcdcdc"/><stop offset="1" stop-color="#e0e0e0"/></linearGradient>
<clipPath id="cp4"><rect x="229.2" y="1260.3" width="481.2" height="59"/></clipPath>
<linearGradient id="bg4" x1="0" y1="0" x2="0" y2="1"><stop offset="0" stop-color="#f2f2f2"/><stop offset="1" stop-color="#f7f7f7"/></linearGradient>
<clipPath id="cp5"><rect x="229.2" y="1335.6" width="481.2" height="57.8"/></clipPath>
<linearGradient id="bg5" x1="0" y1="0" x2="0" y2="1"><stop offset="0" stop-color="#e6e6e6"/><stop offset="1" stop-color="#e6e6e6"/></linearGradient>
<filter id="bls" x="-200%" y="-10%" width="500%" height="120%"><feGaussianBlur stdDeviation="2.5 0.1"/></filter>
</defs>
<g clip-path="url(#cp0)">
<rect x="229.2" y="952" width="481.2" height="63.4" fill="url(#bg0)"/>
<rect x="287" y="947" width="5" height="73.4" fill="#fff" opacity="0.3" filter="url(#bls)"/>
<rect x="342.5" y="947" width="5" height="73.4" fill="#fff" opacity="0.3" filter="url(#bls)"/>
<rect x="399.5" y="947" width="5" height="73.4" fill="#fff" opacity="0.3" filter="url(#bls)"/>
<rect x="456.5" y="947" width="5" height="73.4" fill="#fff" opacity="0.3" filter="url(#bls)"/>
<rect x="513.5" y="947" width="5" height="73.4" fill="#fff" opacity="0.3" filter="url(#bls)"/>
<rect x="572.5" y="947" width="5" height="73.4" fill="#fff" opacity="0.3" filter="url(#bls)"/>
<rect x="632.5" y="947" width="5" height="73.4" fill="#fff" opacity="0.3" filter="url(#bls)"/>
<g filter="url(#bl6)" opacity="0.5"><rect x="238.1" y="963.6" width="46" height="26" rx="5" fill="#666"/></g>
<g filter="url(#bl6)" opacity="0.5"><rect x="294.4" y="964.8" width="46.6" height="26" rx="5" fill="#666"/></g>
<g filter="url(#bl6)" opacity="0.5"><rect x="349.3" y="966.3" width="48.8" height="26" rx="5" fill="#666"/></g>
<g filter="url(#bl6)" opacity="0.5"><rect x="407" y="966.9" width="48.9" height="26" rx="5" fill="#666"/></g>
<g filter="url(#bl6)" opacity="0.5"><rect x="462.4" y="967.4" width="49.8" height="26" rx="5" fill="#666"/></g>
<g filter="url(#bl6)" opacity="0.5"><rect x="520.2" y="967.4" width="51.3" height="26" rx="5" fill="#666"/></g>
<g filter="url(#bl6)" opacity="0.5"><rect x="578.9" y="966.9" width="51.2" height="26" rx="5" fill="#666"/></g>
<g filter="url(#bl6)" opacity="0.5"><rect x="640.2" y="964.2" width="58.1" height="26" rx="5" fill="#666" transform="rotate(-3.8 669.25 979.2)"/></g>
<g filter="url(#bl1_1)" opacity="1"><path d="M244.4 972.3C251.9 973.8 270.3 973.8 277.8 972.3A6.3 6.3 0 0 1 277.8 984.9C270.3 983.4 251.9 983.4 244.4 984.9A6.3 6.3 0 0 1 244.4 972.3Z" fill="#000"/></g>
<g filter="url(#bl1_1)" opacity="1"><path d="M300.7 973.5C308.38 975 327.02 975 334.7 973.5A6.3 6.3 0 0 1 334.7 986.1C327.02 984.6 308.38 984.6 300.7 986.1A6.3 6.3 0 0 1 300.7 973.5Z" fill="#000"/></g>
<g filter="url(#bl1_1)" opacity="1"><path d="M355.6 975C363.94 976.5 383.46 976.5 391.8 975A6.3 6.3 0 0 1 391.8 987.6C383.46 986.1 363.94 986.1 355.6 987.6A6.3 6.3 0 0 1 355.6 975Z" fill="#000"/></g>
<g filter="url(#bl1_1)" opacity="1"><path d="M413.3 975.6C421.67 977.1 441.23 977.1 449.6 975.6A6.3 6.3 0 0 1 449.6 988.2C441.23 986.7 421.67 986.7 413.3 988.2A6.3 6.3 0 0 1 413.3 975.6Z" fill="#000"/></g>
<g filter="url(#bl1_1)" opacity="1"><path d="M468.7 976.1C477.34 977.6 497.26 977.6 505.9 976.1A6.3 6.3 0 0 1 505.9 988.7C497.26 987.2 477.34 987.2 468.7 988.7A6.3 6.3 0 0 1 468.7 976.1Z" fill="#000"/></g>
<g filter="url(#bl1_1)" opacity="1"><path d="M526.5 976.1C535.59 977.6 556.11 977.6 565.2 976.1A6.3 6.3 0 0 1 565.2 988.7C556.11 987.2 535.59 987.2 526.5 988.7A6.3 6.3 0 0 1 526.5 976.1Z" fill="#000"/></g>
<g filter="url(#bl1_1)" opacity="1"><path d="M585.2 975.6C594.26 977.1 614.74 977.1 623.8 975.6A6.3 6.3 0 0 1 623.8 988.2C614.74 986.7 594.26 986.7 585.2 988.2A6.3 6.3 0 0 1 585.2 975.6Z" fill="#000"/></g>
<g filter="url(#bl1_1)" opacity="1"><path d="M646.5 972.9C657.63 974.4 680.87 974.4 692 972.9A6.3 6.3 0 0 1 692 985.5C680.87 984 657.63 984 646.5 985.5A6.3 6.3 0 0 1 646.5 972.9Z" fill="#000" transform="rotate(-3.8 669.25 979.2)"/></g>
</g>
<path d="M229.2 1015.4H710.4M710.4 952V1015.4" fill="none" stroke="#000" stroke-width="1.1"/>
<text x="712.31" y="970.4" font-size="30.8">-50</text>
<text x="27.38" y="992.1" font-size="31.8">CV(ATP5A) -</text>
<g clip-path="url(#cp1)">
<rect x="229.2" y="1032.4" width="481.2" height="56.8" fill="url(#bg1)"/>
<rect x="288.5" y="1027.4" width="5" height="66.8" fill="#fff" opacity="0.3" filter="url(#bls)"/>
<rect x="345.5" y="1027.4" width="5" height="66.8" fill="#fff" opacity="0.3" filter="url(#bls)"/>
<rect x="403.5" y="1027.4" width="5" height="66.8" fill="#fff" opacity="0.3" filter="url(#bls)"/>
<rect x="460.5" y="1027.4" width="5" height="66.8" fill="#fff" opacity="0.3" filter="url(#bls)"/>
<rect x="516.5" y="1027.4" width="5" height="66.8" fill="#fff" opacity="0.3" filter="url(#bls)"/>
<rect x="574.5" y="1027.4" width="5" height="66.8" fill="#fff" opacity="0.3" filter="url(#bls)"/>
<rect x="635.5" y="1027.4" width="5" height="66.8" fill="#fff" opacity="0.3" filter="url(#bls)"/>
<g filter="url(#bl6)" opacity="0.45"><rect x="239.6" y="1051.2" width="44.5" height="22" rx="5" fill="#999"/></g>
<g filter="url(#bl6)" opacity="0.47"><rect x="297.4" y="1051.2" width="44.5" height="22" rx="5" fill="#999"/></g>
<g filter="url(#bl6)" opacity="0.5"><rect x="355.2" y="1051.2" width="44.4" height="22" rx="5" fill="#999"/></g>
<g filter="url(#bl6)" opacity="0.5"><rect x="413" y="1051.4" width="44.4" height="22" rx="5" fill="#999"/></g>
<g filter="url(#bl6)" opacity="0.47"><rect x="469.3" y="1051.8" width="44.4" height="22" rx="5" fill="#999"/></g>
<g filter="url(#bl6)" opacity="0.45"><rect x="525.6" y="1051.8" width="45.9" height="22" rx="5" fill="#999"/></g>
<g filter="url(#bl6)" opacity="0.42"><rect x="583.9" y="1051.4" width="30.1" height="22" rx="5" fill="#999"/></g>
<g filter="url(#bl6)" opacity="0.4"><rect x="645.6" y="1050.4" width="53.3" height="22" rx="5" fill="#999"/></g>
<g filter="url(#bl3_2)" opacity="0.85"><rect x="239.6" y="1056.2" width="44.5" height="12" rx="5" fill="#5c5c5c"/></g>
<g filter="url(#bl3_2)" opacity="0.9"><rect x="297.4" y="1056.2" width="44.5" height="12" rx="5" fill="#5c5c5c"/></g>
<g filter="url(#bl3_2)" opacity="0.95"><rect x="355.2" y="1056.2" width="44.4" height="12" rx="5" fill="#5c5c5c"/></g>
<g filter="url(#bl3_2)" opacity="0.95"><rect x="413" y="1056.4" width="44.4" height="12" rx="5" fill="#5c5c5c"/></g>
<g filter="url(#bl3_2)" opacity="0.9"><rect x="469.3" y="1056.8" width="44.4" height="12" rx="5" fill="#5c5c5c"/></g>
<g filter="url(#bl3_2)" opacity="0.85"><rect x="525.6" y="1056.8" width="45.9" height="12" rx="5" fill="#5c5c5c"/></g>
<g filter="url(#bl3_2)" opacity="0.81"><rect x="583.9" y="1056.4" width="30.1" height="12" rx="5" fill="#5c5c5c"/></g>
<g filter="url(#bl3_2)" opacity="0.76"><rect x="645.6" y="1055.4" width="53.3" height="12" rx="5" fill="#5c5c5c"/></g>
</g>
<path d="M229.2 1032.4H710.4M229.2 1089.2H710.4M710.4 1032.4V1089.2" fill="none" stroke="#000" stroke-width="1.1"/>
<text x="712.31" y="1051.2" font-size="30.8">-37</text>
<text x="4.68" y="1069.2" font-size="31.8">CIV(MTCO1) -</text>
<g clip-path="url(#cp2)">
<rect x="229.2" y="1106.3" width="481.2" height="59.8" fill="url(#bg2)"/>
<g filter="url(#bl5)" opacity="0.45"><rect x="242.6" y="1123" width="41.5" height="18" rx="5" fill="#aaa"/></g>
<g filter="url(#bl5)" opacity="0.45"><rect x="297.4" y="1123" width="44.5" height="18" rx="5" fill="#aaa"/></g>
<g filter="url(#bl5)" opacity="0.47"><rect x="354.3" y="1124.5" width="45.3" height="18" rx="5" fill="#aaa"/></g>
<g filter="url(#bl5)" opacity="0.5"><rect x="413" y="1126.6" width="42.9" height="18" rx="5" fill="#aaa"/></g>
<g filter="url(#bl5)" opacity="0.5"><rect x="469.3" y="1127.5" width="43.5" height="18" rx="5" fill="#aaa"/></g>
<g filter="url(#bl5)" opacity="0.5"><rect x="524.7" y="1128.4" width="46.2" height="18" rx="5" fill="#aaa"/></g>
<g filter="url(#bl5)" opacity="0.5"><rect x="583.9" y="1126.9" width="46.2" height="18" rx="5" fill="#aaa"/></g>
<g filter="url(#bl5)" opacity="0.42"><rect x="644.1" y="1125.4" width="53.3" height="18" rx="5" fill="#aaa"/></g>
<g filter="url(#bl4)" opacity="0.72"><rect x="242.6" y="1151" width="41.5" height="8" rx="4" fill="#bcbcbc"/></g>
<g filter="url(#bl4)" opacity="0.72"><rect x="297.4" y="1151" width="44.5" height="8" rx="4" fill="#bcbcbc"/></g>
<g filter="url(#bl4)" opacity="0.76"><rect x="354.3" y="1152.5" width="45.3" height="8" rx="4" fill="#bcbcbc"/></g>
<g filter="url(#bl4)" opacity="0.8"><rect x="413" y="1154.6" width="42.9" height="8" rx="4" fill="#bcbcbc"/></g>
<g filter="url(#bl4)" opacity="0.8"><rect x="469.3" y="1155.5" width="43.5" height="8" rx="4" fill="#bcbcbc"/></g>
<g filter="url(#bl4)" opacity="0.8"><rect x="524.7" y="1156.4" width="46.2" height="8" rx="4" fill="#bcbcbc"/></g>
<g filter="url(#bl4)" opacity="0.8"><rect x="583.9" y="1154.9" width="46.2" height="8" rx="4" fill="#bcbcbc"/></g>
<g filter="url(#bl4)" opacity="0.68"><rect x="644.1" y="1153.4" width="53.3" height="8" rx="4" fill="#bcbcbc"/></g>
<g filter="url(#bl2_9)" opacity="0.85"><rect x="242.6" y="1127.25" width="41.5" height="9.5" rx="4.75" fill="#666"/></g>
<g filter="url(#bl2_9)" opacity="0.85"><rect x="297.4" y="1127.25" width="44.5" height="9.5" rx="4.75" fill="#666"/></g>
<g filter="url(#bl2_9)" opacity="0.9"><rect x="354.3" y="1128.75" width="45.3" height="9.5" rx="4.75" fill="#666"/></g>
<g filter="url(#bl2_9)" opacity="0.95"><rect x="413" y="1130.85" width="42.9" height="9.5" rx="4.75" fill="#666"/></g>
<g filter="url(#bl2_9)" opacity="0.95"><rect x="469.3" y="1131.75" width="43.5" height="9.5" rx="4.75" fill="#666"/></g>
<g filter="url(#bl2_9)" opacity="0.95"><rect x="524.7" y="1132.65" width="46.2" height="9.5" rx="4.75" fill="#666"/></g>
<g filter="url(#bl2_9)" opacity="0.95"><rect x="583.9" y="1131.15" width="46.2" height="9.5" rx="4.75" fill="#666"/></g>
<g filter="url(#bl2_9)" opacity="0.81"><rect x="644.1" y="1129.65" width="53.3" height="9.5" rx="4.75" fill="#666"/></g>
</g>
<path d="M229.2 1166.1H710.4M710.4 1106.3V1166.1" fill="none" stroke="#000" stroke-width="1.1"/>
<text x="712.31" y="1140.1" font-size="30.8">-25</text>
<text x="40.98" y="1143.8" font-size="31.8">CII(SDHB) -</text>
<g clip-path="url(#cp3)">
<rect x="229.2" y="1183.9" width="481.2" height="58.1" fill="url(#bg3)"/>
<g filter="url(#bl2_4)" opacity="0.95"><rect x="239.6" y="1208.5" width="43" height="5.8" rx="2.9" fill="#808080"/></g>
<g filter="url(#bl2_4)" opacity="0.95"><rect x="294.4" y="1207.7" width="46" height="5.8" rx="2.9" fill="#808080"/></g>
<g filter="url(#bl2_4)" opacity="0.81"><rect x="352.2" y="1209.4" width="47.4" height="5.8" rx="2.9" fill="#808080"/></g>
<g filter="url(#bl2_4)" opacity="0.66"><rect x="408.5" y="1213" width="44.5" height="5.8" rx="2.9" fill="#808080"/></g>
<g filter="url(#bl2_4)" opacity="0.66"><rect x="464.8" y="1214.2" width="45.9" height="5.8" rx="2.9" fill="#808080"/></g>
<g filter="url(#bl2_4)" opacity="0.66"><rect x="522.6" y="1213.9" width="47.4" height="5.8" rx="2.9" fill="#808080"/></g>
<g filter="url(#bl2_4)" opacity="0.66"><rect x="580.4" y="1213" width="48.9" height="5.8" rx="2.9" fill="#808080"/></g>
<g filter="url(#bl2_4)" opacity="0.47"><rect x="641.1" y="1211.8" width="54.9" height="5.8" rx="2.9" fill="#808080"/></g>
</g>
<path d="M229.2 1242H710.4M710.4 1183.9V1242" fill="none" stroke="#000" stroke-width="1.1"/>
<text x="712.31" y="1205.9" font-size="30.8">-20</text>
<text x="10.93" y="1217.2" font-size="31.8">CI(NDUFB8) -</text>
<g clip-path="url(#cp4)">
<rect x="229.2" y="1260.3" width="481.2" height="59" fill="url(#bg4)"/>
<g filter="url(#bl6)" opacity="0.32"><rect x="238.1" y="1275.2" width="47.5" height="24" rx="5" fill="#999"/></g>
<g filter="url(#bl6)" opacity="0.34"><rect x="297.4" y="1275.2" width="48.9" height="24" rx="5" fill="#999"/></g>
<g filter="url(#bl6)" opacity="0.38"><rect x="357.3" y="1275.2" width="46.8" height="24" rx="5" fill="#999"/></g>
<g filter="url(#bl6)" opacity="0.4"><rect x="414.4" y="1275.4" width="47.5" height="24" rx="5" fill="#999"/></g>
<g filter="url(#bl6)" opacity="0.4"><rect x="472.2" y="1275.6" width="47.4" height="24" rx="5" fill="#999"/></g>
<g filter="url(#bl6)" opacity="0.4"><rect x="530" y="1275.8" width="48.9" height="24" rx="5" fill="#999"/></g>
<g filter="url(#bl6)" opacity="0.37"><rect x="589.9" y="1275.6" width="49.7" height="24" rx="5" fill="#999"/></g>
<g filter="url(#bl6)" opacity="0.25"><rect x="650" y="1274.8" width="53.3" height="24" rx="5" fill="#999"/></g>
<g filter="url(#bl1_8)" opacity="0.8"><path d="M243.4 1279.9C252.35 1280.8 271.35 1280.8 280.3 1279.9A5.3 5.3 0 0 1 280.3 1290.5C271.35 1289.6 252.35 1289.6 243.4 1290.5A5.3 5.3 0 0 1 243.4 1279.9Z" fill="#222"/></g>
<g filter="url(#bl1_8)" opacity="0.85"><path d="M302.7 1279.9C312.07 1280.8 331.63 1280.8 341 1279.9A5.3 5.3 0 0 1 341 1290.5C331.63 1289.6 312.07 1289.6 302.7 1290.5A5.3 5.3 0 0 1 302.7 1279.9Z" fill="#222"/></g>
<g filter="url(#bl1_8)" opacity="0.95"><path d="M362.6 1279.9C371.34 1280.8 390.06 1280.8 398.8 1279.9A5.3 5.3 0 0 1 398.8 1290.5C390.06 1289.6 371.34 1289.6 362.6 1290.5A5.3 5.3 0 0 1 362.6 1279.9Z" fill="#222"/></g>
<g filter="url(#bl1_8)" opacity="1"><path d="M419.7 1280.1C428.65 1281 447.65 1281 456.6 1280.1A5.3 5.3 0 0 1 456.6 1290.7C447.65 1289.8 428.65 1289.8 419.7 1290.7A5.3 5.3 0 0 1 419.7 1280.1Z" fill="#222"/></g>
<g filter="url(#bl1_8)" opacity="1"><path d="M477.5 1280.3C486.42 1281.2 505.38 1281.2 514.3 1280.3A5.3 5.3 0 0 1 514.3 1290.9C505.38 1290 486.42 1290 477.5 1290.9A5.3 5.3 0 0 1 477.5 1280.3Z" fill="#222"/></g>
<g filter="url(#bl1_8)" opacity="1"><path d="M535.3 1280.5C544.67 1281.4 564.23 1281.4 573.6 1280.5A5.3 5.3 0 0 1 573.6 1291.1C564.23 1290.2 544.67 1290.2 535.3 1291.1A5.3 5.3 0 0 1 535.3 1280.5Z" fill="#222"/></g>
<g filter="url(#bl1_8)" opacity="0.92"><path d="M595.2 1280.3C604.81 1281.2 624.69 1281.2 634.3 1280.3A5.3 5.3 0 0 1 634.3 1290.9C624.69 1290 604.81 1290 595.2 1290.9A5.3 5.3 0 0 1 595.2 1280.3Z" fill="#222"/></g>
<g filter="url(#bl1_8)" opacity="0.62"><path d="M655.3 1279.5C665.99 1280.4 687.31 1280.4 698 1279.5A5.3 5.3 0 0 1 698 1290.1C687.31 1289.2 665.99 1289.2 655.3 1290.1A5.3 5.3 0 0 1 655.3 1279.5Z" fill="#222"/></g>
</g>
<path d="M710.4 1260.3V1319.3" fill="none" stroke="#000" stroke-width="1.1"/>
<text x="712.31" y="1277.9" font-size="30.8">-75</text>
<text x="40.98" y="1294.9" font-size="31.8">CII(SDHA) -</text>
<g clip-path="url(#cp5)">
<rect x="229.2" y="1335.6" width="481.2" height="57.8" fill="url(#bg5)"/>
<g filter="url(#bl6)" opacity="0.25"><rect x="245.6" y="1354.5" width="42.9" height="26" rx="5" fill="#aaa"/></g>
<g filter="url(#bl6)" opacity="0.37"><rect x="303.3" y="1354.8" width="44.5" height="26" rx="5" fill="#aaa"/></g>
<g filter="url(#bl6)" opacity="0.4"><rect x="361.1" y="1355.2" width="44.5" height="26" rx="5" fill="#aaa"/></g>
<g filter="url(#bl6)" opacity="0.4"><rect x="418.9" y="1355.2" width="43" height="26" rx="5" fill="#aaa"/></g>
<g filter="url(#bl6)" opacity="0.38"><rect x="474.6" y="1356.5" width="43.5" height="26" rx="5" fill="#aaa"/></g>
<g filter="url(#bl6)" opacity="0.34"><rect x="531.5" y="1356.5" width="45.9" height="26" rx="5" fill="#aaa"/></g>
<g filter="url(#bl6)" opacity="0.28"><rect x="590.7" y="1356" width="46" height="26" rx="5" fill="#aaa"/></g>
<g filter="url(#bl6)" opacity="0.38"><rect x="650" y="1355.2" width="50.4" height="26" rx="5" fill="#aaa"/></g>
<g filter="url(#bl2_7)" opacity="0.56"><rect x="245.6" y="1356" width="42.9" height="9" rx="4.5" fill="#808080"/></g>
<g filter="url(#bl2_7)" opacity="0.83"><rect x="303.3" y="1356.3" width="44.5" height="9" rx="4.5" fill="#808080"/></g>
<g filter="url(#bl2_7)" opacity="0.9"><rect x="361.1" y="1356.7" width="44.5" height="9" rx="4.5" fill="#808080"/></g>
<g filter="url(#bl2_7)" opacity="0.9"><rect x="418.9" y="1356.7" width="43" height="9" rx="4.5" fill="#808080"/></g>
<g filter="url(#bl2_7)" opacity="0.85"><rect x="474.6" y="1358" width="43.5" height="9" rx="4.5" fill="#808080"/></g>
<g filter="url(#bl2_7)" opacity="0.77"><rect x="531.5" y="1358" width="45.9" height="9" rx="4.5" fill="#808080"/></g>
<g filter="url(#bl2_7)" opacity="0.63"><rect x="590.7" y="1357.5" width="46" height="9" rx="4.5" fill="#808080"/></g>
<g filter="url(#bl2_7)" opacity="0.85"><rect x="650" y="1356.7" width="50.4" height="9" rx="4.5" fill="#808080"/></g>
<g filter="url(#bl1_6)" opacity="0.62"><path d="M249.7 1367.4C258.47 1368.3 275.63 1368.3 284.4 1367.4A4.1 4.1 0 0 1 284.4 1375.6C275.63 1374.7 258.47 1374.7 249.7 1375.6A4.1 4.1 0 0 1 249.7 1367.4Z" fill="#0a0a0a"/></g>
<g filter="url(#bl1_6)" opacity="0.92"><path d="M307.4 1367.7C316.65 1368.6 334.45 1368.6 343.7 1367.7A4.1 4.1 0 0 1 343.7 1375.9C334.45 1375 316.65 1375 307.4 1375.9A4.1 4.1 0 0 1 307.4 1367.7Z" fill="#0a0a0a"/></g>
<g filter="url(#bl1_6)" opacity="1"><path d="M365.2 1368.1C374.45 1369 392.25 1369 401.5 1368.1A4.1 4.1 0 0 1 401.5 1376.3C392.25 1375.4 374.45 1375.4 365.2 1376.3A4.1 4.1 0 0 1 365.2 1368.1Z" fill="#0a0a0a"/></g>
<g filter="url(#bl1_6)" opacity="1"><path d="M423 1368.1C431.8 1369 449 1369 457.8 1368.1A4.1 4.1 0 0 1 457.8 1376.3C449 1375.4 431.8 1375.4 423 1376.3A4.1 4.1 0 0 1 423 1368.1Z" fill="#0a0a0a"/></g>
<g filter="url(#bl1_6)" opacity="0.95"><path d="M478.7 1369.4C487.65 1370.3 505.05 1370.3 514 1369.4A4.1 4.1 0 0 1 514 1377.6C505.05 1376.7 487.65 1376.7 478.7 1377.6A4.1 4.1 0 0 1 478.7 1369.4Z" fill="#0a0a0a"/></g>
<g filter="url(#bl1_6)" opacity="0.85"><path d="M535.6 1369.4C545.27 1370.3 563.63 1370.3 573.3 1369.4A4.1 4.1 0 0 1 573.3 1377.6C563.63 1376.7 545.27 1376.7 535.6 1377.6A4.1 4.1 0 0 1 535.6 1369.4Z" fill="#0a0a0a"/></g>
<g filter="url(#bl1_6)" opacity="0.7"><path d="M594.8 1368.9C604.5 1369.8 622.9 1369.8 632.6 1368.9A4.1 4.1 0 0 1 632.6 1377.1C622.9 1376.2 604.5 1376.2 594.8 1377.1A4.1 4.1 0 0 1 594.8 1368.9Z" fill="#0a0a0a"/></g>
<g filter="url(#bl1_6)" opacity="0.95"><path d="M654.1 1368.1C665.12 1369 685.28 1369 696.3 1368.1A4.1 4.1 0 0 1 696.3 1376.3C685.28 1375.4 665.12 1375.4 654.1 1376.3A4.1 4.1 0 0 1 654.1 1368.1Z" fill="#0a0a0a"/></g>
</g>
<path d="M229.2 1335.6H710.4M710.4 1335.6V1393.4" fill="none" stroke="#000" stroke-width="1.1"/>
<text x="712.31" y="1358.9" font-size="30.8">-37</text>
<text x="102.83" y="1376.5" font-size="31.8">VDAC -</text>
</g>
<g>
<rect x="1524.2" y="1986.7" width="265.5" height="206.3" fill="#e6e6e6"/>
<circle cx="1556" cy="2015.2" r="5.1" fill="none" stroke="#000000" stroke-width="3.2"/>
<text x="1584.54" y="2025.7" font-size="31.1">Chow Vehicle</text>
<circle cx="1556" cy="2061" r="5.1" fill="none" stroke="#e5362c" stroke-width="3.2"/>
<text x="1584.54" y="2071" font-size="31.1">Chow IMT</text>
<circle cx="1556" cy="2106.7" r="5.1" fill="none" stroke="#f0932b" stroke-width="3.2"/>
<text x="1583.53" y="2115.8" font-size="31.1">HFD Vehicle</text>
<circle cx="1556" cy="2152" r="5.1" fill="none" stroke="#4069b3" stroke-width="3.2"/>
<text x="1583.53" y="2161" font-size="31.1">HFD IMT</text>
</g>
</svg></body></html>
